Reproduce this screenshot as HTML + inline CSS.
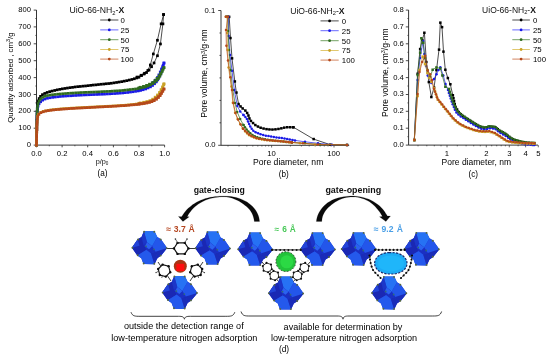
<!DOCTYPE html>
<html><head><meta charset="utf-8"><title>Figure</title>
<style>html,body{margin:0;padding:0;background:#fff;}svg{display:block;filter:blur(0.45px);}</style>
</head><body>
<svg width="550" height="358" viewBox="0 0 550 358" font-family='"Liberation Sans", sans-serif'>
<rect width="550" height="358" fill="#fff"/>
<path d="M36.5 10.05 L36.5 145.1 L164.6 145.1" fill="none" stroke="#2a2a2a" stroke-width="0.95"/>
<line x1="33.7" y1="145.1" x2="36.5" y2="145.1" stroke="#2a2a2a" stroke-width="0.85"/>
<text x="30.9" y="147.1" font-size="7.6" text-anchor="end" font-weight="normal" fill="#000" >0</text>
<line x1="35.3" y1="136.7" x2="36.5" y2="136.7" stroke="#2a2a2a" stroke-width="0.7"/>
<line x1="33.7" y1="128.2" x2="36.5" y2="128.2" stroke="#2a2a2a" stroke-width="0.85"/>
<text x="30.9" y="130.2" font-size="7.6" text-anchor="end" font-weight="normal" fill="#000" >100</text>
<line x1="35.3" y1="119.8" x2="36.5" y2="119.8" stroke="#2a2a2a" stroke-width="0.7"/>
<line x1="33.7" y1="111.3" x2="36.5" y2="111.3" stroke="#2a2a2a" stroke-width="0.85"/>
<text x="30.9" y="113.3" font-size="7.6" text-anchor="end" font-weight="normal" fill="#000" >200</text>
<line x1="35.3" y1="102.9" x2="36.5" y2="102.9" stroke="#2a2a2a" stroke-width="0.7"/>
<line x1="33.7" y1="94.5" x2="36.5" y2="94.5" stroke="#2a2a2a" stroke-width="0.85"/>
<text x="30.9" y="96.5" font-size="7.6" text-anchor="end" font-weight="normal" fill="#000" >300</text>
<line x1="35.3" y1="86.0" x2="36.5" y2="86.0" stroke="#2a2a2a" stroke-width="0.7"/>
<line x1="33.7" y1="77.6" x2="36.5" y2="77.6" stroke="#2a2a2a" stroke-width="0.85"/>
<text x="30.9" y="79.6" font-size="7.6" text-anchor="end" font-weight="normal" fill="#000" >400</text>
<line x1="35.3" y1="69.1" x2="36.5" y2="69.1" stroke="#2a2a2a" stroke-width="0.7"/>
<line x1="33.7" y1="60.7" x2="36.5" y2="60.7" stroke="#2a2a2a" stroke-width="0.85"/>
<text x="30.9" y="62.7" font-size="7.6" text-anchor="end" font-weight="normal" fill="#000" >500</text>
<line x1="35.3" y1="52.3" x2="36.5" y2="52.3" stroke="#2a2a2a" stroke-width="0.7"/>
<line x1="33.7" y1="43.8" x2="36.5" y2="43.8" stroke="#2a2a2a" stroke-width="0.85"/>
<text x="30.9" y="45.8" font-size="7.6" text-anchor="end" font-weight="normal" fill="#000" >600</text>
<line x1="35.3" y1="35.4" x2="36.5" y2="35.4" stroke="#2a2a2a" stroke-width="0.7"/>
<line x1="33.7" y1="26.9" x2="36.5" y2="26.9" stroke="#2a2a2a" stroke-width="0.85"/>
<text x="30.9" y="28.9" font-size="7.6" text-anchor="end" font-weight="normal" fill="#000" >700</text>
<line x1="35.3" y1="18.5" x2="36.5" y2="18.5" stroke="#2a2a2a" stroke-width="0.7"/>
<line x1="33.7" y1="10.1" x2="36.5" y2="10.1" stroke="#2a2a2a" stroke-width="0.85"/>
<text x="30.9" y="12.1" font-size="7.6" text-anchor="end" font-weight="normal" fill="#000" >800</text>
<line x1="36.5" y1="145.1" x2="36.5" y2="147.29999999999998" stroke="#2a2a2a" stroke-width="0.85"/>
<text x="36.5" y="155.7" font-size="7.7" text-anchor="middle" font-weight="normal" fill="#000" >0.0</text>
<line x1="49.3" y1="145.1" x2="49.3" y2="146.29999999999998" stroke="#2a2a2a" stroke-width="0.7"/>
<line x1="62.1" y1="145.1" x2="62.1" y2="147.29999999999998" stroke="#2a2a2a" stroke-width="0.85"/>
<text x="62.1" y="155.7" font-size="7.7" text-anchor="middle" font-weight="normal" fill="#000" >0.2</text>
<line x1="74.9" y1="145.1" x2="74.9" y2="146.29999999999998" stroke="#2a2a2a" stroke-width="0.7"/>
<line x1="87.7" y1="145.1" x2="87.7" y2="147.29999999999998" stroke="#2a2a2a" stroke-width="0.85"/>
<text x="87.7" y="155.7" font-size="7.7" text-anchor="middle" font-weight="normal" fill="#000" >0.4</text>
<line x1="100.6" y1="145.1" x2="100.6" y2="146.29999999999998" stroke="#2a2a2a" stroke-width="0.7"/>
<line x1="113.4" y1="145.1" x2="113.4" y2="147.29999999999998" stroke="#2a2a2a" stroke-width="0.85"/>
<text x="113.4" y="155.7" font-size="7.7" text-anchor="middle" font-weight="normal" fill="#000" >0.6</text>
<line x1="126.2" y1="145.1" x2="126.2" y2="146.29999999999998" stroke="#2a2a2a" stroke-width="0.7"/>
<line x1="139.0" y1="145.1" x2="139.0" y2="147.29999999999998" stroke="#2a2a2a" stroke-width="0.85"/>
<text x="139.0" y="155.7" font-size="7.7" text-anchor="middle" font-weight="normal" fill="#000" >0.8</text>
<line x1="151.8" y1="145.1" x2="151.8" y2="146.29999999999998" stroke="#2a2a2a" stroke-width="0.7"/>
<line x1="164.6" y1="145.1" x2="164.6" y2="147.29999999999998" stroke="#2a2a2a" stroke-width="0.85"/>
<text x="164.6" y="155.7" font-size="7.7" text-anchor="middle" font-weight="normal" fill="#000" >1.0</text>
<text transform="translate(12.5,77.6) rotate(-90)" x="-45.2" font-size="7.9" text-anchor="start" fill="#000" textLength="90.4" lengthAdjust="spacingAndGlyphs">Quantity adsorbed , cm<tspan font-size="5.5" dy="-2.5">3</tspan><tspan dy="2.5">/g</tspan></text>
<text x="102" y="164.2" font-size="7.3" text-anchor="middle" fill="#111">p/p<tspan font-size="4.6" dy="0.8">0</tspan></text>
<text x="102.6" y="176.0" font-size="8.2" text-anchor="middle" font-weight="normal" fill="#000" >(a)</text>
<polyline points="36.5,145.1 36.5,141.5 36.6,136.3 36.7,130.4 36.8,124.6 36.9,119.8 37.0,115.9 37.1,112.5 37.2,109.5 37.3,106.9 37.5,104.6 37.8,102.8 38.0,101.4 38.3,100.4 38.7,99.5 39.1,98.7 39.5,97.8 40.0,97.1 40.5,96.4 41.0,95.9 41.6,95.3 42.3,94.8 42.9,94.3 43.7,93.9 44.5,93.5 45.5,93.1 46.5,92.7 47.7,92.3 48.9,91.9 50.3,91.5 51.9,91.1 53.6,90.6 55.6,90.2 57.7,89.7 59.8,89.3 62.1,88.9 64.5,88.5 67.1,88.1 69.7,87.7 72.3,87.4 74.9,87.0 77.5,86.7 80.1,86.5 82.6,86.2 85.2,85.9 87.7,85.7 90.3,85.4 93.0,85.1 95.6,84.8 98.2,84.6 100.5,84.3 102.7,84.1 104.8,83.9 106.7,83.7 108.6,83.5 110.5,83.3 112.5,83.1 114.4,82.8 116.3,82.5 118.1,82.2 119.8,82.0 121.2,81.7 122.5,81.5 123.7,81.3 124.9,81.0 126.2,80.8 127.5,80.5 128.7,80.2 130.0,79.9 131.3,79.6 132.6,79.3 134.0,78.9 135.4,78.4 136.9,77.9 138.1,77.5 139.0,77.2 141.5,75.5 144.0,74.0 146.5,72.5 149.0,70.0 151.6,66.7 154.0,63.0 157.4,55.8 160.4,44.0 162.9,23.9 163.6,14.6" fill="none" stroke="#000000" stroke-width="0.7" stroke-linejoin="round"/>
<polyline points="163.6,14.6 161.1,23.9 157.4,40.3 153.3,54.0 150.3,65.0 147.8,70.4 144.5,73.2 141.0,75.2 137.0,77.0" fill="none" stroke="#000000" stroke-width="0.7" stroke-linejoin="round"/>
<rect x="35.1" y="143.8" width="2.7" height="2.7" fill="#000000"/>
<rect x="35.2" y="141.2" width="2.7" height="2.7" fill="#000000"/>
<rect x="35.2" y="138.6" width="2.7" height="2.7" fill="#000000"/>
<rect x="35.3" y="136.0" width="2.7" height="2.7" fill="#000000"/>
<rect x="35.3" y="133.4" width="2.7" height="2.7" fill="#000000"/>
<rect x="35.3" y="130.8" width="2.7" height="2.7" fill="#000000"/>
<rect x="35.4" y="128.2" width="2.7" height="2.7" fill="#000000"/>
<rect x="35.4" y="125.6" width="2.7" height="2.7" fill="#000000"/>
<rect x="35.4" y="123.0" width="2.7" height="2.7" fill="#000000"/>
<rect x="35.5" y="120.4" width="2.7" height="2.7" fill="#000000"/>
<rect x="35.6" y="117.8" width="2.7" height="2.7" fill="#000000"/>
<rect x="35.6" y="115.2" width="2.7" height="2.7" fill="#000000"/>
<rect x="35.7" y="112.6" width="2.7" height="2.7" fill="#000000"/>
<rect x="35.8" y="110.0" width="2.7" height="2.7" fill="#000000"/>
<rect x="35.9" y="107.4" width="2.7" height="2.7" fill="#000000"/>
<rect x="36.0" y="104.8" width="2.7" height="2.7" fill="#000000"/>
<rect x="36.3" y="102.2" width="2.7" height="2.7" fill="#000000"/>
<rect x="36.8" y="99.6" width="2.7" height="2.7" fill="#000000"/>
<rect x="37.8" y="97.2" width="2.7" height="2.7" fill="#000000"/>
<rect x="39.2" y="95.0" width="2.7" height="2.7" fill="#000000"/>
<rect x="41.1" y="93.3" width="2.7" height="2.7" fill="#000000"/>
<rect x="43.4" y="92.1" width="2.7" height="2.7" fill="#000000"/>
<rect x="45.8" y="91.1" width="2.7" height="2.7" fill="#000000"/>
<rect x="48.3" y="90.3" width="2.7" height="2.7" fill="#000000"/>
<rect x="50.8" y="89.7" width="2.7" height="2.7" fill="#000000"/>
<rect x="53.3" y="89.1" width="2.7" height="2.7" fill="#000000"/>
<rect x="55.9" y="88.5" width="2.7" height="2.7" fill="#000000"/>
<rect x="58.4" y="88.0" width="2.7" height="2.7" fill="#000000"/>
<rect x="61.0" y="87.5" width="2.7" height="2.7" fill="#000000"/>
<rect x="63.5" y="87.1" width="2.7" height="2.7" fill="#000000"/>
<rect x="66.1" y="86.7" width="2.7" height="2.7" fill="#000000"/>
<rect x="68.7" y="86.3" width="2.7" height="2.7" fill="#000000"/>
<rect x="71.2" y="86.0" width="2.7" height="2.7" fill="#000000"/>
<rect x="73.8" y="85.6" width="2.7" height="2.7" fill="#000000"/>
<rect x="76.4" y="85.3" width="2.7" height="2.7" fill="#000000"/>
<rect x="79.0" y="85.1" width="2.7" height="2.7" fill="#000000"/>
<rect x="81.6" y="84.8" width="2.7" height="2.7" fill="#000000"/>
<rect x="84.2" y="84.6" width="2.7" height="2.7" fill="#000000"/>
<rect x="86.8" y="84.3" width="2.7" height="2.7" fill="#000000"/>
<rect x="89.3" y="84.0" width="2.7" height="2.7" fill="#000000"/>
<rect x="91.9" y="83.7" width="2.7" height="2.7" fill="#000000"/>
<rect x="94.5" y="83.5" width="2.7" height="2.7" fill="#000000"/>
<rect x="97.1" y="83.2" width="2.7" height="2.7" fill="#000000"/>
<rect x="99.7" y="82.9" width="2.7" height="2.7" fill="#000000"/>
<rect x="102.3" y="82.7" width="2.7" height="2.7" fill="#000000"/>
<rect x="104.9" y="82.4" width="2.7" height="2.7" fill="#000000"/>
<rect x="107.4" y="82.2" width="2.7" height="2.7" fill="#000000"/>
<rect x="110.0" y="81.9" width="2.7" height="2.7" fill="#000000"/>
<rect x="112.6" y="81.5" width="2.7" height="2.7" fill="#000000"/>
<rect x="115.2" y="81.1" width="2.7" height="2.7" fill="#000000"/>
<rect x="117.7" y="80.7" width="2.7" height="2.7" fill="#000000"/>
<rect x="120.3" y="80.3" width="2.7" height="2.7" fill="#000000"/>
<rect x="122.9" y="79.8" width="2.7" height="2.7" fill="#000000"/>
<rect x="125.4" y="79.3" width="2.7" height="2.7" fill="#000000"/>
<rect x="128.0" y="78.7" width="2.7" height="2.7" fill="#000000"/>
<rect x="130.5" y="78.1" width="2.7" height="2.7" fill="#000000"/>
<rect x="133.0" y="77.4" width="2.7" height="2.7" fill="#000000"/>
<rect x="135.4" y="76.6" width="2.7" height="2.7" fill="#000000"/>
<rect x="137.6" y="75.9" width="2.7" height="2.7" fill="#000000"/>
<rect x="140.2" y="74.2" width="2.7" height="2.7" fill="#000000"/>
<rect x="142.7" y="72.7" width="2.7" height="2.7" fill="#000000"/>
<rect x="145.2" y="71.2" width="2.7" height="2.7" fill="#000000"/>
<rect x="147.7" y="68.7" width="2.7" height="2.7" fill="#000000"/>
<rect x="150.2" y="65.4" width="2.7" height="2.7" fill="#000000"/>
<rect x="152.7" y="61.6" width="2.7" height="2.7" fill="#000000"/>
<rect x="156.1" y="54.4" width="2.7" height="2.7" fill="#000000"/>
<rect x="159.1" y="42.6" width="2.7" height="2.7" fill="#000000"/>
<rect x="161.6" y="22.5" width="2.7" height="2.7" fill="#000000"/>
<rect x="162.2" y="13.2" width="2.7" height="2.7" fill="#000000"/>
<rect x="162.2" y="13.2" width="2.7" height="2.7" fill="#000000"/>
<rect x="159.8" y="22.5" width="2.7" height="2.7" fill="#000000"/>
<rect x="156.1" y="38.9" width="2.7" height="2.7" fill="#000000"/>
<rect x="152.0" y="52.6" width="2.7" height="2.7" fill="#000000"/>
<rect x="149.0" y="63.6" width="2.7" height="2.7" fill="#000000"/>
<rect x="146.5" y="69.1" width="2.7" height="2.7" fill="#000000"/>
<rect x="143.2" y="71.9" width="2.7" height="2.7" fill="#000000"/>
<rect x="139.7" y="73.9" width="2.7" height="2.7" fill="#000000"/>
<rect x="135.7" y="75.7" width="2.7" height="2.7" fill="#000000"/>
<polyline points="36.5,145.1 36.5,141.7 36.6,136.8 36.7,131.3 36.8,125.9 36.9,121.5 37.0,118.1 37.1,115.2 37.2,112.8 37.3,110.7 37.5,108.8 37.8,107.3 38.0,106.1 38.3,105.2 38.7,104.5 39.1,103.7 39.5,103.0 40.0,102.4 40.5,101.9 41.0,101.4 41.6,100.9 42.3,100.4 42.9,100.0 43.7,99.6 44.5,99.2 45.5,98.8 46.5,98.5 47.7,98.2 48.9,98.0 50.3,97.7 51.9,97.5 53.6,97.2 55.6,97.0 57.7,96.8 59.8,96.5 62.1,96.3 64.5,96.1 67.1,95.9 69.7,95.8 72.3,95.6 74.9,95.5 77.5,95.3 80.1,95.2 82.6,95.0 85.2,94.9 87.7,94.8 90.3,94.7 92.9,94.6 95.4,94.5 98.0,94.4 100.5,94.3 103.1,94.2 105.7,94.0 108.2,93.9 110.8,93.8 113.4,93.6 115.9,93.4 118.5,93.3 121.0,93.1 123.6,92.9 126.2,92.6 128.8,92.3 131.5,91.9 134.2,91.5 136.7,91.1 139.0,90.7 140.9,90.3 142.5,89.9 144.0,89.5 145.4,89.0 146.7,88.5 147.9,88.1 149.0,87.6 150.0,87.1 150.9,86.6 151.8,86.0 152.7,85.4 153.5,84.7 154.2,84.1 155.0,83.3 155.6,82.6 156.2,81.9 156.8,81.3 157.2,80.6 157.7,79.8 158.2,78.9 158.7,77.9 159.3,76.8 159.8,75.7 160.3,74.5 160.8,73.4 161.2,72.2 161.6,70.9 162.0,69.7 162.3,68.5 162.7,67.4 163.0,66.4 163.3,65.4 163.6,64.4 163.8,63.6 164.0,63.1" fill="none" stroke="#1a1ae6" stroke-width="0.7" stroke-linejoin="round"/>
<rect x="35.1" y="143.8" width="2.7" height="2.7" fill="#1a1ae6"/>
<rect x="35.2" y="141.2" width="2.7" height="2.7" fill="#1a1ae6"/>
<rect x="35.2" y="138.6" width="2.7" height="2.7" fill="#1a1ae6"/>
<rect x="35.3" y="136.0" width="2.7" height="2.7" fill="#1a1ae6"/>
<rect x="35.3" y="133.4" width="2.7" height="2.7" fill="#1a1ae6"/>
<rect x="35.3" y="130.8" width="2.7" height="2.7" fill="#1a1ae6"/>
<rect x="35.4" y="128.2" width="2.7" height="2.7" fill="#1a1ae6"/>
<rect x="35.4" y="125.6" width="2.7" height="2.7" fill="#1a1ae6"/>
<rect x="35.5" y="123.0" width="2.7" height="2.7" fill="#1a1ae6"/>
<rect x="35.5" y="120.4" width="2.7" height="2.7" fill="#1a1ae6"/>
<rect x="35.6" y="117.8" width="2.7" height="2.7" fill="#1a1ae6"/>
<rect x="35.7" y="115.2" width="2.7" height="2.7" fill="#1a1ae6"/>
<rect x="35.8" y="112.6" width="2.7" height="2.7" fill="#1a1ae6"/>
<rect x="35.9" y="110.0" width="2.7" height="2.7" fill="#1a1ae6"/>
<rect x="36.2" y="107.4" width="2.7" height="2.7" fill="#1a1ae6"/>
<rect x="36.7" y="104.8" width="2.7" height="2.7" fill="#1a1ae6"/>
<rect x="37.7" y="102.4" width="2.7" height="2.7" fill="#1a1ae6"/>
<rect x="39.3" y="100.4" width="2.7" height="2.7" fill="#1a1ae6"/>
<rect x="41.3" y="98.8" width="2.7" height="2.7" fill="#1a1ae6"/>
<rect x="43.6" y="97.7" width="2.7" height="2.7" fill="#1a1ae6"/>
<rect x="46.1" y="96.9" width="2.7" height="2.7" fill="#1a1ae6"/>
<rect x="48.7" y="96.4" width="2.7" height="2.7" fill="#1a1ae6"/>
<rect x="51.3" y="96.0" width="2.7" height="2.7" fill="#1a1ae6"/>
<rect x="53.8" y="95.7" width="2.7" height="2.7" fill="#1a1ae6"/>
<rect x="56.4" y="95.4" width="2.7" height="2.7" fill="#1a1ae6"/>
<rect x="59.0" y="95.1" width="2.7" height="2.7" fill="#1a1ae6"/>
<rect x="61.6" y="94.9" width="2.7" height="2.7" fill="#1a1ae6"/>
<rect x="64.2" y="94.7" width="2.7" height="2.7" fill="#1a1ae6"/>
<rect x="66.8" y="94.5" width="2.7" height="2.7" fill="#1a1ae6"/>
<rect x="69.4" y="94.4" width="2.7" height="2.7" fill="#1a1ae6"/>
<rect x="72.0" y="94.2" width="2.7" height="2.7" fill="#1a1ae6"/>
<rect x="74.6" y="94.1" width="2.7" height="2.7" fill="#1a1ae6"/>
<rect x="77.2" y="93.9" width="2.7" height="2.7" fill="#1a1ae6"/>
<rect x="79.8" y="93.8" width="2.7" height="2.7" fill="#1a1ae6"/>
<rect x="82.4" y="93.6" width="2.7" height="2.7" fill="#1a1ae6"/>
<rect x="85.0" y="93.5" width="2.7" height="2.7" fill="#1a1ae6"/>
<rect x="87.6" y="93.4" width="2.7" height="2.7" fill="#1a1ae6"/>
<rect x="90.1" y="93.3" width="2.7" height="2.7" fill="#1a1ae6"/>
<rect x="92.7" y="93.2" width="2.7" height="2.7" fill="#1a1ae6"/>
<rect x="95.3" y="93.1" width="2.7" height="2.7" fill="#1a1ae6"/>
<rect x="97.9" y="93.0" width="2.7" height="2.7" fill="#1a1ae6"/>
<rect x="100.5" y="92.9" width="2.7" height="2.7" fill="#1a1ae6"/>
<rect x="103.1" y="92.8" width="2.7" height="2.7" fill="#1a1ae6"/>
<rect x="105.7" y="92.6" width="2.7" height="2.7" fill="#1a1ae6"/>
<rect x="108.3" y="92.5" width="2.7" height="2.7" fill="#1a1ae6"/>
<rect x="110.9" y="92.3" width="2.7" height="2.7" fill="#1a1ae6"/>
<rect x="113.5" y="92.2" width="2.7" height="2.7" fill="#1a1ae6"/>
<rect x="116.1" y="92.0" width="2.7" height="2.7" fill="#1a1ae6"/>
<rect x="118.7" y="91.8" width="2.7" height="2.7" fill="#1a1ae6"/>
<rect x="121.3" y="91.6" width="2.7" height="2.7" fill="#1a1ae6"/>
<rect x="123.9" y="91.3" width="2.7" height="2.7" fill="#1a1ae6"/>
<rect x="126.5" y="91.1" width="2.7" height="2.7" fill="#1a1ae6"/>
<rect x="129.1" y="90.7" width="2.7" height="2.7" fill="#1a1ae6"/>
<rect x="131.6" y="90.4" width="2.7" height="2.7" fill="#1a1ae6"/>
<rect x="134.2" y="90.0" width="2.7" height="2.7" fill="#1a1ae6"/>
<rect x="136.8" y="89.6" width="2.7" height="2.7" fill="#1a1ae6"/>
<rect x="139.3" y="89.0" width="2.7" height="2.7" fill="#1a1ae6"/>
<rect x="141.8" y="88.4" width="2.7" height="2.7" fill="#1a1ae6"/>
<rect x="144.3" y="87.6" width="2.7" height="2.7" fill="#1a1ae6"/>
<rect x="146.7" y="86.6" width="2.7" height="2.7" fill="#1a1ae6"/>
<rect x="149.1" y="85.5" width="2.7" height="2.7" fill="#1a1ae6"/>
<rect x="151.2" y="84.1" width="2.7" height="2.7" fill="#1a1ae6"/>
<rect x="153.2" y="82.4" width="2.7" height="2.7" fill="#1a1ae6"/>
<rect x="155.0" y="80.5" width="2.7" height="2.7" fill="#1a1ae6"/>
<rect x="156.4" y="78.3" width="2.7" height="2.7" fill="#1a1ae6"/>
<rect x="157.6" y="76.0" width="2.7" height="2.7" fill="#1a1ae6"/>
<rect x="158.7" y="73.7" width="2.7" height="2.7" fill="#1a1ae6"/>
<rect x="159.7" y="71.3" width="2.7" height="2.7" fill="#1a1ae6"/>
<rect x="160.5" y="68.8" width="2.7" height="2.7" fill="#1a1ae6"/>
<rect x="161.3" y="66.3" width="2.7" height="2.7" fill="#1a1ae6"/>
<rect x="162.0" y="63.8" width="2.7" height="2.7" fill="#1a1ae6"/>
<rect x="162.6" y="61.7" width="2.7" height="2.7" fill="#1a1ae6"/>
<polyline points="164.0,63.1 163.4,64.5 162.5,66.6 161.6,68.9 160.8,70.8 160.1,72.3 159.5,73.7 158.9,75.0 158.2,76.2 157.4,77.5 156.4,78.8 155.4,80.1 154.4,81.3 153.3,82.4 152.2,83.5 150.9,84.6 149.2,85.7 146.8,86.9 143.8,88.1 140.9,89.3 139.0,90.1" fill="none" stroke="#1a1ae6" stroke-width="0.7" stroke-linejoin="round"/>
<rect x="162.6" y="61.7" width="2.7" height="2.7" fill="#1a1ae6"/>
<rect x="161.4" y="64.7" width="2.7" height="2.7" fill="#1a1ae6"/>
<rect x="160.2" y="67.6" width="2.7" height="2.7" fill="#1a1ae6"/>
<rect x="158.9" y="70.6" width="2.7" height="2.7" fill="#1a1ae6"/>
<rect x="157.6" y="73.5" width="2.7" height="2.7" fill="#1a1ae6"/>
<rect x="156.0" y="76.2" width="2.7" height="2.7" fill="#1a1ae6"/>
<rect x="154.0" y="78.8" width="2.7" height="2.7" fill="#1a1ae6"/>
<rect x="151.9" y="81.1" width="2.7" height="2.7" fill="#1a1ae6"/>
<rect x="149.5" y="83.3" width="2.7" height="2.7" fill="#1a1ae6"/>
<rect x="146.7" y="84.9" width="2.7" height="2.7" fill="#1a1ae6"/>
<rect x="143.8" y="86.2" width="2.7" height="2.7" fill="#1a1ae6"/>
<rect x="140.9" y="87.4" width="2.7" height="2.7" fill="#1a1ae6"/>
<rect x="137.9" y="88.6" width="2.7" height="2.7" fill="#1a1ae6"/>
<rect x="137.6" y="88.7" width="2.7" height="2.7" fill="#1a1ae6"/>
<polyline points="36.5,145.1 36.5,141.6 36.6,136.5 36.7,130.8 36.8,125.2 36.9,120.6 37.0,117.1 37.1,114.1 37.2,111.4 37.3,109.2 37.5,107.1 37.8,105.4 38.0,104.1 38.3,103.0 38.7,102.1 39.1,101.2 39.5,100.4 40.0,99.7 40.5,99.2 41.0,98.7 41.6,98.2 42.3,97.7 42.9,97.3 43.7,96.9 44.5,96.5 45.5,96.1 46.5,95.8 47.7,95.5 48.9,95.3 50.3,95.0 51.9,94.8 53.6,94.6 55.6,94.4 57.7,94.2 59.8,94.0 62.1,93.8 64.5,93.6 67.1,93.4 69.7,93.3 72.3,93.1 74.9,92.9 77.5,92.8 80.1,92.6 82.6,92.5 85.2,92.4 87.7,92.3 90.3,92.2 92.9,92.1 95.4,92.0 98.0,91.9 100.5,91.8 103.1,91.6 105.7,91.5 108.2,91.4 110.8,91.2 113.4,91.1 115.9,90.9 118.5,90.7 121.0,90.5 123.6,90.3 126.2,90.1 128.8,89.8 131.5,89.4 134.2,89.1 136.7,88.7 139.0,88.4 140.9,88.0 142.5,87.7 144.0,87.3 145.4,86.9 146.7,86.5 147.9,86.1 149.0,85.7 150.0,85.3 150.9,84.8 151.8,84.3 152.7,83.8 153.5,83.3 154.2,82.7 155.0,82.2 155.6,81.6 156.2,81.1 156.8,80.6 157.2,80.1 157.7,79.6 158.2,78.9 158.7,78.2 159.3,77.3 159.8,76.3 160.3,75.4 160.8,74.5 161.2,73.7 161.6,72.8 162.0,72.0 162.3,71.2 162.7,70.5 163.0,69.8 163.3,69.1 163.6,68.5 163.8,68.0 164.0,67.6" fill="none" stroke="#2f6b1e" stroke-width="0.7" stroke-linejoin="round"/>
<rect x="35.1" y="143.8" width="2.7" height="2.7" fill="#2f6b1e"/>
<rect x="35.2" y="141.2" width="2.7" height="2.7" fill="#2f6b1e"/>
<rect x="35.2" y="138.6" width="2.7" height="2.7" fill="#2f6b1e"/>
<rect x="35.3" y="136.0" width="2.7" height="2.7" fill="#2f6b1e"/>
<rect x="35.3" y="133.4" width="2.7" height="2.7" fill="#2f6b1e"/>
<rect x="35.3" y="130.8" width="2.7" height="2.7" fill="#2f6b1e"/>
<rect x="35.4" y="128.2" width="2.7" height="2.7" fill="#2f6b1e"/>
<rect x="35.4" y="125.6" width="2.7" height="2.7" fill="#2f6b1e"/>
<rect x="35.5" y="123.0" width="2.7" height="2.7" fill="#2f6b1e"/>
<rect x="35.5" y="120.4" width="2.7" height="2.7" fill="#2f6b1e"/>
<rect x="35.6" y="117.8" width="2.7" height="2.7" fill="#2f6b1e"/>
<rect x="35.7" y="115.2" width="2.7" height="2.7" fill="#2f6b1e"/>
<rect x="35.7" y="112.6" width="2.7" height="2.7" fill="#2f6b1e"/>
<rect x="35.9" y="110.0" width="2.7" height="2.7" fill="#2f6b1e"/>
<rect x="36.0" y="107.4" width="2.7" height="2.7" fill="#2f6b1e"/>
<rect x="36.3" y="104.8" width="2.7" height="2.7" fill="#2f6b1e"/>
<rect x="36.8" y="102.2" width="2.7" height="2.7" fill="#2f6b1e"/>
<rect x="37.7" y="99.8" width="2.7" height="2.7" fill="#2f6b1e"/>
<rect x="39.2" y="97.7" width="2.7" height="2.7" fill="#2f6b1e"/>
<rect x="41.3" y="96.1" width="2.7" height="2.7" fill="#2f6b1e"/>
<rect x="43.6" y="95.0" width="2.7" height="2.7" fill="#2f6b1e"/>
<rect x="46.1" y="94.2" width="2.7" height="2.7" fill="#2f6b1e"/>
<rect x="48.7" y="93.7" width="2.7" height="2.7" fill="#2f6b1e"/>
<rect x="51.2" y="93.4" width="2.7" height="2.7" fill="#2f6b1e"/>
<rect x="53.8" y="93.1" width="2.7" height="2.7" fill="#2f6b1e"/>
<rect x="56.4" y="92.8" width="2.7" height="2.7" fill="#2f6b1e"/>
<rect x="59.0" y="92.6" width="2.7" height="2.7" fill="#2f6b1e"/>
<rect x="61.6" y="92.4" width="2.7" height="2.7" fill="#2f6b1e"/>
<rect x="64.2" y="92.2" width="2.7" height="2.7" fill="#2f6b1e"/>
<rect x="66.8" y="92.0" width="2.7" height="2.7" fill="#2f6b1e"/>
<rect x="69.4" y="91.8" width="2.7" height="2.7" fill="#2f6b1e"/>
<rect x="72.0" y="91.7" width="2.7" height="2.7" fill="#2f6b1e"/>
<rect x="74.6" y="91.5" width="2.7" height="2.7" fill="#2f6b1e"/>
<rect x="77.2" y="91.4" width="2.7" height="2.7" fill="#2f6b1e"/>
<rect x="79.7" y="91.2" width="2.7" height="2.7" fill="#2f6b1e"/>
<rect x="82.3" y="91.1" width="2.7" height="2.7" fill="#2f6b1e"/>
<rect x="84.9" y="91.0" width="2.7" height="2.7" fill="#2f6b1e"/>
<rect x="87.5" y="90.9" width="2.7" height="2.7" fill="#2f6b1e"/>
<rect x="90.1" y="90.8" width="2.7" height="2.7" fill="#2f6b1e"/>
<rect x="92.7" y="90.7" width="2.7" height="2.7" fill="#2f6b1e"/>
<rect x="95.3" y="90.6" width="2.7" height="2.7" fill="#2f6b1e"/>
<rect x="97.9" y="90.5" width="2.7" height="2.7" fill="#2f6b1e"/>
<rect x="100.5" y="90.3" width="2.7" height="2.7" fill="#2f6b1e"/>
<rect x="103.1" y="90.2" width="2.7" height="2.7" fill="#2f6b1e"/>
<rect x="105.7" y="90.1" width="2.7" height="2.7" fill="#2f6b1e"/>
<rect x="108.3" y="90.0" width="2.7" height="2.7" fill="#2f6b1e"/>
<rect x="110.9" y="89.8" width="2.7" height="2.7" fill="#2f6b1e"/>
<rect x="113.5" y="89.6" width="2.7" height="2.7" fill="#2f6b1e"/>
<rect x="116.1" y="89.5" width="2.7" height="2.7" fill="#2f6b1e"/>
<rect x="118.7" y="89.3" width="2.7" height="2.7" fill="#2f6b1e"/>
<rect x="121.3" y="89.1" width="2.7" height="2.7" fill="#2f6b1e"/>
<rect x="123.9" y="88.8" width="2.7" height="2.7" fill="#2f6b1e"/>
<rect x="126.5" y="88.5" width="2.7" height="2.7" fill="#2f6b1e"/>
<rect x="129.0" y="88.2" width="2.7" height="2.7" fill="#2f6b1e"/>
<rect x="131.6" y="87.9" width="2.7" height="2.7" fill="#2f6b1e"/>
<rect x="134.2" y="87.6" width="2.7" height="2.7" fill="#2f6b1e"/>
<rect x="136.8" y="87.2" width="2.7" height="2.7" fill="#2f6b1e"/>
<rect x="139.3" y="86.7" width="2.7" height="2.7" fill="#2f6b1e"/>
<rect x="141.9" y="86.1" width="2.7" height="2.7" fill="#2f6b1e"/>
<rect x="144.4" y="85.5" width="2.7" height="2.7" fill="#2f6b1e"/>
<rect x="146.8" y="84.6" width="2.7" height="2.7" fill="#2f6b1e"/>
<rect x="149.2" y="83.6" width="2.7" height="2.7" fill="#2f6b1e"/>
<rect x="151.5" y="82.3" width="2.7" height="2.7" fill="#2f6b1e"/>
<rect x="153.6" y="80.8" width="2.7" height="2.7" fill="#2f6b1e"/>
<rect x="155.6" y="79.1" width="2.7" height="2.7" fill="#2f6b1e"/>
<rect x="157.2" y="77.1" width="2.7" height="2.7" fill="#2f6b1e"/>
<rect x="158.5" y="74.9" width="2.7" height="2.7" fill="#2f6b1e"/>
<rect x="159.7" y="72.6" width="2.7" height="2.7" fill="#2f6b1e"/>
<rect x="160.8" y="70.2" width="2.7" height="2.7" fill="#2f6b1e"/>
<rect x="161.9" y="67.8" width="2.7" height="2.7" fill="#2f6b1e"/>
<rect x="162.6" y="66.3" width="2.7" height="2.7" fill="#2f6b1e"/>
<polyline points="164.0,67.6 163.4,68.6 162.5,70.0 161.6,71.5 160.8,72.8 160.1,73.9 159.5,74.9 158.9,75.9 158.2,76.9 157.4,77.9 156.4,79.0 155.4,80.0 154.4,81.0 153.3,81.8 152.2,82.7 150.9,83.5 149.2,84.3 146.8,85.3 143.8,86.2 140.9,87.1 139.0,87.7" fill="none" stroke="#2f6b1e" stroke-width="0.7" stroke-linejoin="round"/>
<rect x="162.6" y="66.3" width="2.7" height="2.7" fill="#2f6b1e"/>
<rect x="160.9" y="69.0" width="2.7" height="2.7" fill="#2f6b1e"/>
<rect x="159.3" y="71.7" width="2.7" height="2.7" fill="#2f6b1e"/>
<rect x="157.6" y="74.5" width="2.7" height="2.7" fill="#2f6b1e"/>
<rect x="155.6" y="77.0" width="2.7" height="2.7" fill="#2f6b1e"/>
<rect x="153.4" y="79.3" width="2.7" height="2.7" fill="#2f6b1e"/>
<rect x="150.9" y="81.3" width="2.7" height="2.7" fill="#2f6b1e"/>
<rect x="148.1" y="82.8" width="2.7" height="2.7" fill="#2f6b1e"/>
<rect x="145.2" y="84.0" width="2.7" height="2.7" fill="#2f6b1e"/>
<rect x="142.1" y="85.0" width="2.7" height="2.7" fill="#2f6b1e"/>
<rect x="139.0" y="85.9" width="2.7" height="2.7" fill="#2f6b1e"/>
<rect x="137.6" y="86.4" width="2.7" height="2.7" fill="#2f6b1e"/>
<polyline points="36.5,145.1 36.5,142.4 36.6,138.6 36.7,134.2 36.8,129.9 36.9,126.5 37.0,124.0 37.1,121.9 37.2,120.1 37.3,118.6 37.5,117.2 37.8,116.1 38.0,115.3 38.3,114.7 38.7,114.2 39.1,113.7 39.5,113.2 40.0,112.9 40.5,112.6 41.0,112.3 41.6,112.0 42.3,111.7 42.9,111.5 43.7,111.3 44.5,111.0 45.5,110.8 46.5,110.6 47.7,110.4 48.9,110.2 50.3,110.0 51.9,109.8 53.6,109.6 55.6,109.4 57.7,109.2 59.8,109.0 62.1,108.8 64.5,108.6 67.1,108.4 69.7,108.3 72.3,108.1 74.9,108.0 77.5,107.8 80.1,107.7 82.6,107.5 85.2,107.4 87.7,107.3 90.3,107.2 92.9,107.0 95.4,106.9 98.0,106.7 100.5,106.6 103.1,106.5 105.7,106.3 108.2,106.2 110.8,106.1 113.4,105.9 115.9,105.8 118.5,105.6 121.0,105.5 123.6,105.3 126.2,105.1 128.8,104.9 131.5,104.6 134.2,104.3 136.7,104.0 139.0,103.7 140.9,103.5 142.5,103.2 144.0,103.0 145.4,102.7 146.7,102.4 147.9,102.1 149.0,101.8 150.0,101.4 150.9,101.1 151.8,100.7 152.7,100.3 153.5,99.8 154.2,99.3 155.0,98.8 155.6,98.3 156.2,97.9 156.8,97.4 157.2,96.9 157.7,96.4 158.2,95.8 158.7,95.1 159.3,94.4 159.8,93.6 160.3,92.7 160.8,91.9 161.2,91.1 161.6,90.2 162.0,89.4 162.3,88.5 162.7,87.7 163.0,86.9 163.3,86.0 163.6,85.2 163.8,84.5 164.0,84.0" fill="none" stroke="#c9a227" stroke-width="0.7" stroke-linejoin="round"/>
<rect x="35.1" y="143.8" width="2.7" height="2.7" fill="#c9a227"/>
<rect x="35.2" y="141.2" width="2.7" height="2.7" fill="#c9a227"/>
<rect x="35.2" y="138.6" width="2.7" height="2.7" fill="#c9a227"/>
<rect x="35.3" y="136.0" width="2.7" height="2.7" fill="#c9a227"/>
<rect x="35.3" y="133.4" width="2.7" height="2.7" fill="#c9a227"/>
<rect x="35.4" y="130.8" width="2.7" height="2.7" fill="#c9a227"/>
<rect x="35.4" y="128.2" width="2.7" height="2.7" fill="#c9a227"/>
<rect x="35.5" y="125.6" width="2.7" height="2.7" fill="#c9a227"/>
<rect x="35.6" y="123.0" width="2.7" height="2.7" fill="#c9a227"/>
<rect x="35.7" y="120.4" width="2.7" height="2.7" fill="#c9a227"/>
<rect x="35.9" y="117.8" width="2.7" height="2.7" fill="#c9a227"/>
<rect x="36.3" y="115.2" width="2.7" height="2.7" fill="#c9a227"/>
<rect x="37.3" y="112.8" width="2.7" height="2.7" fill="#c9a227"/>
<rect x="39.3" y="111.1" width="2.7" height="2.7" fill="#c9a227"/>
<rect x="41.7" y="110.1" width="2.7" height="2.7" fill="#c9a227"/>
<rect x="44.2" y="109.5" width="2.7" height="2.7" fill="#c9a227"/>
<rect x="46.7" y="109.0" width="2.7" height="2.7" fill="#c9a227"/>
<rect x="49.3" y="108.6" width="2.7" height="2.7" fill="#c9a227"/>
<rect x="51.9" y="108.3" width="2.7" height="2.7" fill="#c9a227"/>
<rect x="54.5" y="108.0" width="2.7" height="2.7" fill="#c9a227"/>
<rect x="57.1" y="107.8" width="2.7" height="2.7" fill="#c9a227"/>
<rect x="59.6" y="107.5" width="2.7" height="2.7" fill="#c9a227"/>
<rect x="62.2" y="107.3" width="2.7" height="2.7" fill="#c9a227"/>
<rect x="64.8" y="107.2" width="2.7" height="2.7" fill="#c9a227"/>
<rect x="67.4" y="107.0" width="2.7" height="2.7" fill="#c9a227"/>
<rect x="70.0" y="106.8" width="2.7" height="2.7" fill="#c9a227"/>
<rect x="72.6" y="106.7" width="2.7" height="2.7" fill="#c9a227"/>
<rect x="75.2" y="106.5" width="2.7" height="2.7" fill="#c9a227"/>
<rect x="77.8" y="106.4" width="2.7" height="2.7" fill="#c9a227"/>
<rect x="80.4" y="106.2" width="2.7" height="2.7" fill="#c9a227"/>
<rect x="83.0" y="106.1" width="2.7" height="2.7" fill="#c9a227"/>
<rect x="85.6" y="106.0" width="2.7" height="2.7" fill="#c9a227"/>
<rect x="88.2" y="105.8" width="2.7" height="2.7" fill="#c9a227"/>
<rect x="90.8" y="105.7" width="2.7" height="2.7" fill="#c9a227"/>
<rect x="93.4" y="105.6" width="2.7" height="2.7" fill="#c9a227"/>
<rect x="96.0" y="105.4" width="2.7" height="2.7" fill="#c9a227"/>
<rect x="98.6" y="105.3" width="2.7" height="2.7" fill="#c9a227"/>
<rect x="101.2" y="105.2" width="2.7" height="2.7" fill="#c9a227"/>
<rect x="103.8" y="105.0" width="2.7" height="2.7" fill="#c9a227"/>
<rect x="106.4" y="104.9" width="2.7" height="2.7" fill="#c9a227"/>
<rect x="109.0" y="104.8" width="2.7" height="2.7" fill="#c9a227"/>
<rect x="111.6" y="104.6" width="2.7" height="2.7" fill="#c9a227"/>
<rect x="114.2" y="104.5" width="2.7" height="2.7" fill="#c9a227"/>
<rect x="116.8" y="104.3" width="2.7" height="2.7" fill="#c9a227"/>
<rect x="119.4" y="104.1" width="2.7" height="2.7" fill="#c9a227"/>
<rect x="121.9" y="104.0" width="2.7" height="2.7" fill="#c9a227"/>
<rect x="124.5" y="103.8" width="2.7" height="2.7" fill="#c9a227"/>
<rect x="127.1" y="103.5" width="2.7" height="2.7" fill="#c9a227"/>
<rect x="129.7" y="103.3" width="2.7" height="2.7" fill="#c9a227"/>
<rect x="132.3" y="103.0" width="2.7" height="2.7" fill="#c9a227"/>
<rect x="134.9" y="102.7" width="2.7" height="2.7" fill="#c9a227"/>
<rect x="137.5" y="102.4" width="2.7" height="2.7" fill="#c9a227"/>
<rect x="140.0" y="102.0" width="2.7" height="2.7" fill="#c9a227"/>
<rect x="142.6" y="101.6" width="2.7" height="2.7" fill="#c9a227"/>
<rect x="145.1" y="101.1" width="2.7" height="2.7" fill="#c9a227"/>
<rect x="147.7" y="100.4" width="2.7" height="2.7" fill="#c9a227"/>
<rect x="150.1" y="99.5" width="2.7" height="2.7" fill="#c9a227"/>
<rect x="152.4" y="98.3" width="2.7" height="2.7" fill="#c9a227"/>
<rect x="154.5" y="96.8" width="2.7" height="2.7" fill="#c9a227"/>
<rect x="156.4" y="95.0" width="2.7" height="2.7" fill="#c9a227"/>
<rect x="158.0" y="92.9" width="2.7" height="2.7" fill="#c9a227"/>
<rect x="159.3" y="90.7" width="2.7" height="2.7" fill="#c9a227"/>
<rect x="160.5" y="88.4" width="2.7" height="2.7" fill="#c9a227"/>
<rect x="161.5" y="86.0" width="2.7" height="2.7" fill="#c9a227"/>
<rect x="162.3" y="83.5" width="2.7" height="2.7" fill="#c9a227"/>
<rect x="162.6" y="82.6" width="2.7" height="2.7" fill="#c9a227"/>
<polyline points="164.0,84.0 163.4,85.2 162.5,86.9 161.6,88.7 160.8,90.2 160.1,91.4 159.5,92.3 158.9,93.2 158.2,94.1 157.4,95.1 156.4,96.0 155.4,97.0 154.4,97.8 153.3,98.7 152.2,99.4 150.9,100.2 149.2,100.9 146.8,101.6 143.8,102.2 140.9,102.8 139.0,103.2" fill="none" stroke="#c9a227" stroke-width="0.7" stroke-linejoin="round"/>
<rect x="162.6" y="82.6" width="2.7" height="2.7" fill="#c9a227"/>
<rect x="161.2" y="85.5" width="2.7" height="2.7" fill="#c9a227"/>
<rect x="159.7" y="88.3" width="2.7" height="2.7" fill="#c9a227"/>
<rect x="158.1" y="91.1" width="2.7" height="2.7" fill="#c9a227"/>
<rect x="156.1" y="93.6" width="2.7" height="2.7" fill="#c9a227"/>
<rect x="153.8" y="95.8" width="2.7" height="2.7" fill="#c9a227"/>
<rect x="151.3" y="97.8" width="2.7" height="2.7" fill="#c9a227"/>
<rect x="148.5" y="99.3" width="2.7" height="2.7" fill="#c9a227"/>
<rect x="145.4" y="100.2" width="2.7" height="2.7" fill="#c9a227"/>
<rect x="142.3" y="100.9" width="2.7" height="2.7" fill="#c9a227"/>
<rect x="139.1" y="101.6" width="2.7" height="2.7" fill="#c9a227"/>
<rect x="137.6" y="101.9" width="2.7" height="2.7" fill="#c9a227"/>
<polyline points="36.5,145.1 36.5,142.5 36.6,138.7 36.7,134.4 36.8,130.2 36.9,126.9 37.0,124.4 37.1,122.3 37.2,120.6 37.3,119.1 37.5,117.8 37.8,116.6 38.0,115.8 38.3,115.1 38.7,114.6 39.1,114.0 39.5,113.6 40.0,113.2 40.5,112.9 41.0,112.6 41.6,112.4 42.3,112.1 42.9,111.8 43.7,111.6 44.5,111.4 45.5,111.2 46.5,111.0 47.7,110.8 48.9,110.6 50.3,110.4 51.9,110.2 53.6,110.0 55.6,109.7 57.7,109.5 59.8,109.3 62.1,109.1 64.5,109.0 67.1,108.8 69.7,108.6 72.3,108.5 74.9,108.3 77.5,108.2 80.1,108.0 82.6,107.9 85.2,107.8 87.7,107.6 90.3,107.5 92.9,107.4 95.4,107.2 98.0,107.1 100.5,106.9 103.1,106.8 105.7,106.7 108.2,106.6 110.8,106.4 113.4,106.3 115.9,106.1 118.5,106.0 121.0,105.8 123.6,105.6 126.2,105.4 128.8,105.2 131.5,105.0 134.2,104.7 136.7,104.5 139.0,104.2 140.9,104.0 142.5,103.8 144.0,103.6 145.4,103.3 146.7,103.1 147.9,102.8 149.0,102.6 150.0,102.3 150.9,102.0 151.8,101.7 152.7,101.4 153.5,101.0 154.2,100.6 155.0,100.2 155.6,99.9 156.2,99.5 156.8,99.1 157.2,98.7 157.7,98.3 158.2,97.8 158.7,97.3 159.3,96.7 159.8,96.1 160.3,95.4 160.8,94.8 161.2,94.1 161.6,93.4 162.0,92.7 162.3,92.0 162.7,91.4 163.0,90.8 163.3,90.3 163.6,89.8 163.8,89.4 164.0,89.1" fill="none" stroke="#b5481a" stroke-width="0.7" stroke-linejoin="round"/>
<rect x="35.1" y="143.8" width="2.7" height="2.7" fill="#b5481a"/>
<rect x="35.2" y="141.2" width="2.7" height="2.7" fill="#b5481a"/>
<rect x="35.2" y="138.6" width="2.7" height="2.7" fill="#b5481a"/>
<rect x="35.3" y="136.0" width="2.7" height="2.7" fill="#b5481a"/>
<rect x="35.3" y="133.4" width="2.7" height="2.7" fill="#b5481a"/>
<rect x="35.4" y="130.8" width="2.7" height="2.7" fill="#b5481a"/>
<rect x="35.5" y="128.2" width="2.7" height="2.7" fill="#b5481a"/>
<rect x="35.5" y="125.6" width="2.7" height="2.7" fill="#b5481a"/>
<rect x="35.6" y="123.0" width="2.7" height="2.7" fill="#b5481a"/>
<rect x="35.8" y="120.4" width="2.7" height="2.7" fill="#b5481a"/>
<rect x="36.0" y="117.8" width="2.7" height="2.7" fill="#b5481a"/>
<rect x="36.4" y="115.2" width="2.7" height="2.7" fill="#b5481a"/>
<rect x="37.6" y="112.9" width="2.7" height="2.7" fill="#b5481a"/>
<rect x="39.6" y="111.3" width="2.7" height="2.7" fill="#b5481a"/>
<rect x="42.0" y="110.4" width="2.7" height="2.7" fill="#b5481a"/>
<rect x="44.5" y="109.7" width="2.7" height="2.7" fill="#b5481a"/>
<rect x="47.1" y="109.3" width="2.7" height="2.7" fill="#b5481a"/>
<rect x="49.7" y="108.9" width="2.7" height="2.7" fill="#b5481a"/>
<rect x="52.2" y="108.6" width="2.7" height="2.7" fill="#b5481a"/>
<rect x="54.8" y="108.3" width="2.7" height="2.7" fill="#b5481a"/>
<rect x="57.4" y="108.1" width="2.7" height="2.7" fill="#b5481a"/>
<rect x="60.0" y="107.9" width="2.7" height="2.7" fill="#b5481a"/>
<rect x="62.6" y="107.7" width="2.7" height="2.7" fill="#b5481a"/>
<rect x="65.2" y="107.5" width="2.7" height="2.7" fill="#b5481a"/>
<rect x="67.8" y="107.3" width="2.7" height="2.7" fill="#b5481a"/>
<rect x="70.4" y="107.1" width="2.7" height="2.7" fill="#b5481a"/>
<rect x="73.0" y="107.0" width="2.7" height="2.7" fill="#b5481a"/>
<rect x="75.6" y="106.8" width="2.7" height="2.7" fill="#b5481a"/>
<rect x="78.2" y="106.7" width="2.7" height="2.7" fill="#b5481a"/>
<rect x="80.8" y="106.6" width="2.7" height="2.7" fill="#b5481a"/>
<rect x="83.4" y="106.4" width="2.7" height="2.7" fill="#b5481a"/>
<rect x="86.0" y="106.3" width="2.7" height="2.7" fill="#b5481a"/>
<rect x="88.5" y="106.2" width="2.7" height="2.7" fill="#b5481a"/>
<rect x="91.1" y="106.0" width="2.7" height="2.7" fill="#b5481a"/>
<rect x="93.7" y="105.9" width="2.7" height="2.7" fill="#b5481a"/>
<rect x="96.3" y="105.7" width="2.7" height="2.7" fill="#b5481a"/>
<rect x="98.9" y="105.6" width="2.7" height="2.7" fill="#b5481a"/>
<rect x="101.5" y="105.5" width="2.7" height="2.7" fill="#b5481a"/>
<rect x="104.1" y="105.3" width="2.7" height="2.7" fill="#b5481a"/>
<rect x="106.7" y="105.2" width="2.7" height="2.7" fill="#b5481a"/>
<rect x="109.3" y="105.1" width="2.7" height="2.7" fill="#b5481a"/>
<rect x="111.9" y="104.9" width="2.7" height="2.7" fill="#b5481a"/>
<rect x="114.5" y="104.8" width="2.7" height="2.7" fill="#b5481a"/>
<rect x="117.1" y="104.6" width="2.7" height="2.7" fill="#b5481a"/>
<rect x="119.7" y="104.4" width="2.7" height="2.7" fill="#b5481a"/>
<rect x="122.3" y="104.3" width="2.7" height="2.7" fill="#b5481a"/>
<rect x="124.9" y="104.1" width="2.7" height="2.7" fill="#b5481a"/>
<rect x="127.5" y="103.9" width="2.7" height="2.7" fill="#b5481a"/>
<rect x="130.1" y="103.6" width="2.7" height="2.7" fill="#b5481a"/>
<rect x="132.7" y="103.4" width="2.7" height="2.7" fill="#b5481a"/>
<rect x="135.2" y="103.2" width="2.7" height="2.7" fill="#b5481a"/>
<rect x="137.8" y="102.9" width="2.7" height="2.7" fill="#b5481a"/>
<rect x="140.4" y="102.5" width="2.7" height="2.7" fill="#b5481a"/>
<rect x="143.0" y="102.1" width="2.7" height="2.7" fill="#b5481a"/>
<rect x="145.5" y="101.7" width="2.7" height="2.7" fill="#b5481a"/>
<rect x="148.1" y="101.1" width="2.7" height="2.7" fill="#b5481a"/>
<rect x="150.6" y="100.3" width="2.7" height="2.7" fill="#b5481a"/>
<rect x="152.9" y="99.3" width="2.7" height="2.7" fill="#b5481a"/>
<rect x="155.2" y="97.9" width="2.7" height="2.7" fill="#b5481a"/>
<rect x="157.1" y="96.2" width="2.7" height="2.7" fill="#b5481a"/>
<rect x="158.8" y="94.3" width="2.7" height="2.7" fill="#b5481a"/>
<rect x="160.2" y="92.1" width="2.7" height="2.7" fill="#b5481a"/>
<rect x="161.5" y="89.8" width="2.7" height="2.7" fill="#b5481a"/>
<rect x="162.6" y="87.7" width="2.7" height="2.7" fill="#b5481a"/>
<polyline points="164.0,89.1 163.4,89.9 162.5,91.2 161.6,92.5 160.8,93.6 160.1,94.4 159.5,95.1 158.9,95.8 158.2,96.5 157.4,97.2 156.4,98.0 155.4,98.8 154.4,99.5 153.3,100.2 152.2,100.9 150.9,101.5 149.2,102.1 146.8,102.6 143.8,103.1 140.9,103.6 139.0,103.9" fill="none" stroke="#b5481a" stroke-width="0.7" stroke-linejoin="round"/>
<rect x="162.6" y="87.7" width="2.7" height="2.7" fill="#b5481a"/>
<rect x="160.8" y="90.3" width="2.7" height="2.7" fill="#b5481a"/>
<rect x="158.9" y="92.9" width="2.7" height="2.7" fill="#b5481a"/>
<rect x="156.7" y="95.3" width="2.7" height="2.7" fill="#b5481a"/>
<rect x="154.3" y="97.3" width="2.7" height="2.7" fill="#b5481a"/>
<rect x="151.6" y="99.1" width="2.7" height="2.7" fill="#b5481a"/>
<rect x="148.7" y="100.4" width="2.7" height="2.7" fill="#b5481a"/>
<rect x="145.6" y="101.2" width="2.7" height="2.7" fill="#b5481a"/>
<rect x="142.5" y="101.8" width="2.7" height="2.7" fill="#b5481a"/>
<rect x="139.3" y="102.3" width="2.7" height="2.7" fill="#b5481a"/>
<rect x="137.6" y="102.6" width="2.7" height="2.7" fill="#b5481a"/>
<text x="69.4" y="13.3" font-size="8.4" fill="#111" textLength="54.8" lengthAdjust="spacingAndGlyphs">UiO-66-NH<tspan font-size="5.6" dy="1.2">2</tspan><tspan dy="-1.2">-</tspan><tspan font-weight="bold">X</tspan></text>
<line x1="100.2" y1="20" x2="118.4" y2="20" stroke="#000000" stroke-width="0.7"/>
<circle cx="109.30000000000001" cy="20" r="1.4" fill="#000000"/>
<text x="120.6" y="22.8" font-size="7.8" text-anchor="start" font-weight="normal" fill="#000" >0</text>
<line x1="100.2" y1="29.9" x2="118.4" y2="29.9" stroke="#2a2aff" stroke-width="0.7"/>
<circle cx="109.30000000000001" cy="29.9" r="1.4" fill="#1a1ae6"/>
<text x="120.6" y="32.7" font-size="7.8" text-anchor="start" font-weight="normal" fill="#000" >25</text>
<line x1="100.2" y1="39.7" x2="118.4" y2="39.7" stroke="#3a7a22" stroke-width="0.7"/>
<circle cx="109.30000000000001" cy="39.7" r="1.4" fill="#2f6b1e"/>
<text x="120.6" y="42.5" font-size="7.8" text-anchor="start" font-weight="normal" fill="#000" >50</text>
<line x1="100.2" y1="49.5" x2="118.4" y2="49.5" stroke="#d4b030" stroke-width="0.7"/>
<circle cx="109.30000000000001" cy="49.5" r="1.4" fill="#c9a227"/>
<text x="120.6" y="52.3" font-size="7.8" text-anchor="start" font-weight="normal" fill="#000" >75</text>
<line x1="100.2" y1="59.1" x2="118.4" y2="59.1" stroke="#c0501c" stroke-width="0.7"/>
<circle cx="109.30000000000001" cy="59.1" r="1.4" fill="#b5481a"/>
<text x="120.6" y="61.9" font-size="7.8" text-anchor="start" font-weight="normal" fill="#000" >100</text>
<path d="M221.0 10.5 L221.0 145.3 L349.2 145.3" fill="none" stroke="#2a2a2a" stroke-width="0.95"/>
<line x1="218.2" y1="145.3" x2="221.0" y2="145.3" stroke="#2a2a2a" stroke-width="0.85"/>
<line x1="219.5" y1="122.8" x2="221.0" y2="122.8" stroke="#2a2a2a" stroke-width="0.85"/>
<line x1="219.5" y1="100.4" x2="221.0" y2="100.4" stroke="#2a2a2a" stroke-width="0.85"/>
<line x1="219.5" y1="77.9" x2="221.0" y2="77.9" stroke="#2a2a2a" stroke-width="0.85"/>
<line x1="219.5" y1="55.4" x2="221.0" y2="55.4" stroke="#2a2a2a" stroke-width="0.85"/>
<line x1="219.5" y1="33.0" x2="221.0" y2="33.0" stroke="#2a2a2a" stroke-width="0.85"/>
<line x1="218.2" y1="10.5" x2="221.0" y2="10.5" stroke="#2a2a2a" stroke-width="0.85"/>
<text x="215.2" y="12.7" font-size="7.7" text-anchor="end" font-weight="normal" fill="#000" >0.1</text>
<text x="215.6" y="147.4" font-size="7.7" text-anchor="end" font-weight="normal" fill="#000" >0.0</text>
<line x1="228.0" y1="145.3" x2="228.0" y2="146.5" stroke="#2a2a2a" stroke-width="0.7"/>
<line x1="239.0" y1="145.3" x2="239.0" y2="146.5" stroke="#2a2a2a" stroke-width="0.7"/>
<line x1="246.8" y1="145.3" x2="246.8" y2="146.5" stroke="#2a2a2a" stroke-width="0.7"/>
<line x1="252.8" y1="145.3" x2="252.8" y2="146.5" stroke="#2a2a2a" stroke-width="0.7"/>
<line x1="257.8" y1="145.3" x2="257.8" y2="146.5" stroke="#2a2a2a" stroke-width="0.7"/>
<line x1="261.9" y1="145.3" x2="261.9" y2="146.5" stroke="#2a2a2a" stroke-width="0.7"/>
<line x1="265.6" y1="145.3" x2="265.6" y2="146.5" stroke="#2a2a2a" stroke-width="0.7"/>
<line x1="268.7" y1="145.3" x2="268.7" y2="146.5" stroke="#2a2a2a" stroke-width="0.7"/>
<line x1="271.6" y1="145.3" x2="271.6" y2="147.5" stroke="#2a2a2a" stroke-width="0.7"/>
<line x1="290.4" y1="145.3" x2="290.4" y2="146.5" stroke="#2a2a2a" stroke-width="0.7"/>
<line x1="301.4" y1="145.3" x2="301.4" y2="146.5" stroke="#2a2a2a" stroke-width="0.7"/>
<line x1="309.2" y1="145.3" x2="309.2" y2="146.5" stroke="#2a2a2a" stroke-width="0.7"/>
<line x1="315.2" y1="145.3" x2="315.2" y2="146.5" stroke="#2a2a2a" stroke-width="0.7"/>
<line x1="320.2" y1="145.3" x2="320.2" y2="146.5" stroke="#2a2a2a" stroke-width="0.7"/>
<line x1="324.3" y1="145.3" x2="324.3" y2="146.5" stroke="#2a2a2a" stroke-width="0.7"/>
<line x1="328.0" y1="145.3" x2="328.0" y2="146.5" stroke="#2a2a2a" stroke-width="0.7"/>
<line x1="331.1" y1="145.3" x2="331.1" y2="146.5" stroke="#2a2a2a" stroke-width="0.7"/>
<line x1="334.0" y1="145.3" x2="334.0" y2="147.5" stroke="#2a2a2a" stroke-width="0.7"/>
<text x="271.6" y="156.0" font-size="7.7" text-anchor="middle" font-weight="normal" fill="#000" >10</text>
<text x="333.7" y="156.0" font-size="7.7" text-anchor="middle" font-weight="normal" fill="#000" >100</text>
<text transform="translate(207.3,73.5) rotate(-90)" x="-44.2" font-size="8.4" text-anchor="start" fill="#000" textLength="88.4" lengthAdjust="spacingAndGlyphs">Pore volume, cm<tspan font-size="5.5" dy="-2.5">3</tspan><tspan dy="2.5">/g·nm</tspan></text>
<text x="288.2" y="164.7" font-size="8.6" text-anchor="middle" font-weight="normal" fill="#000" >Pore diameter, nm</text>
<text x="283.7" y="177.0" font-size="8.2" text-anchor="middle" font-weight="normal" fill="#000" >(b)</text>
<polyline points="227.2,16.8 229.2,16.8 230.5,38.0 232.0,58.4 234.8,81.5 236.4,92.6 238.6,104.0 240.6,106.5 242.7,108.4 245.3,110.6 247.9,113.8 249.6,119.0 251.6,121.8 254.0,123.9 256.4,125.8 259.1,127.2 262.5,128.4 267.0,129.2 271.6,129.6 276.0,129.3 280.4,128.6 285.9,127.2 293.4,127.2 313.6,139.1 330.3,144.7 347.0,144.9" fill="none" stroke="#000000" stroke-width="0.7" stroke-linejoin="round"/>
<rect x="225.9" y="15.6" width="2.5" height="2.5" fill="#000000"/>
<rect x="227.9" y="15.6" width="2.5" height="2.5" fill="#000000"/>
<rect x="229.2" y="36.8" width="2.5" height="2.5" fill="#000000"/>
<rect x="230.8" y="57.1" width="2.5" height="2.5" fill="#000000"/>
<rect x="233.6" y="80.2" width="2.5" height="2.5" fill="#000000"/>
<rect x="235.2" y="91.3" width="2.5" height="2.5" fill="#000000"/>
<rect x="237.3" y="102.8" width="2.5" height="2.5" fill="#000000"/>
<rect x="239.3" y="105.2" width="2.5" height="2.5" fill="#000000"/>
<rect x="241.4" y="107.2" width="2.5" height="2.5" fill="#000000"/>
<rect x="244.1" y="109.3" width="2.5" height="2.5" fill="#000000"/>
<rect x="245.9" y="111.7" width="2.5" height="2.5" fill="#000000"/>
<rect x="247.2" y="114.3" width="2.5" height="2.5" fill="#000000"/>
<rect x="248.2" y="117.2" width="2.5" height="2.5" fill="#000000"/>
<rect x="249.7" y="119.7" width="2.5" height="2.5" fill="#000000"/>
<rect x="251.8" y="121.8" width="2.5" height="2.5" fill="#000000"/>
<rect x="254.1" y="123.8" width="2.5" height="2.5" fill="#000000"/>
<rect x="256.7" y="125.3" width="2.5" height="2.5" fill="#000000"/>
<rect x="259.4" y="126.5" width="2.5" height="2.5" fill="#000000"/>
<rect x="262.3" y="127.3" width="2.5" height="2.5" fill="#000000"/>
<rect x="265.3" y="127.9" width="2.5" height="2.5" fill="#000000"/>
<rect x="268.2" y="128.2" width="2.5" height="2.5" fill="#000000"/>
<rect x="271.2" y="128.3" width="2.5" height="2.5" fill="#000000"/>
<rect x="274.2" y="128.1" width="2.5" height="2.5" fill="#000000"/>
<rect x="277.2" y="127.7" width="2.5" height="2.5" fill="#000000"/>
<rect x="280.1" y="127.1" width="2.5" height="2.5" fill="#000000"/>
<rect x="283.0" y="126.4" width="2.5" height="2.5" fill="#000000"/>
<rect x="286.0" y="126.0" width="2.5" height="2.5" fill="#000000"/>
<rect x="289.0" y="126.0" width="2.5" height="2.5" fill="#000000"/>
<rect x="292.0" y="126.0" width="2.5" height="2.5" fill="#000000"/>
<rect x="292.1" y="126.0" width="2.5" height="2.5" fill="#000000"/>
<rect x="312.4" y="137.8" width="2.5" height="2.5" fill="#000000"/>
<rect x="329.1" y="143.4" width="2.5" height="2.5" fill="#000000"/>
<rect x="345.8" y="143.7" width="2.5" height="2.5" fill="#000000"/>
<polyline points="226.5,16.8 228.5,16.8 228.6,35.9 230.0,55.0 232.0,70.7 234.3,90.0 237.3,106.0 240.2,111.5 243.5,115.0 246.4,117.8 249.5,125.0 252.7,130.4 256.0,132.5 260.3,134.2 265.5,135.6 271.6,136.7 278.0,137.6 285.0,138.6 295.0,140.4 305.0,141.8 318.0,143.3 332.0,144.7 347.0,144.9" fill="none" stroke="#1a1ae6" stroke-width="0.7" stroke-linejoin="round"/>
<circle cx="226.5" cy="16.8" r="1.25" fill="#1a1ae6"/>
<circle cx="228.5" cy="16.8" r="1.25" fill="#1a1ae6"/>
<circle cx="228.6" cy="35.9" r="1.25" fill="#1a1ae6"/>
<circle cx="230.0" cy="55.0" r="1.25" fill="#1a1ae6"/>
<circle cx="232.0" cy="70.7" r="1.25" fill="#1a1ae6"/>
<circle cx="234.3" cy="90.0" r="1.25" fill="#1a1ae6"/>
<circle cx="237.3" cy="106.0" r="1.25" fill="#1a1ae6"/>
<circle cx="240.2" cy="111.5" r="1.25" fill="#1a1ae6"/>
<circle cx="243.5" cy="115.0" r="1.25" fill="#1a1ae6"/>
<circle cx="243.5" cy="115.0" r="1.25" fill="#1a1ae6"/>
<circle cx="245.4" cy="116.9" r="1.25" fill="#1a1ae6"/>
<circle cx="246.9" cy="119.1" r="1.25" fill="#1a1ae6"/>
<circle cx="248.0" cy="121.5" r="1.25" fill="#1a1ae6"/>
<circle cx="249.1" cy="124.0" r="1.25" fill="#1a1ae6"/>
<circle cx="250.3" cy="126.4" r="1.25" fill="#1a1ae6"/>
<circle cx="251.7" cy="128.7" r="1.25" fill="#1a1ae6"/>
<circle cx="253.3" cy="130.8" r="1.25" fill="#1a1ae6"/>
<circle cx="255.6" cy="132.3" r="1.25" fill="#1a1ae6"/>
<circle cx="258.1" cy="133.3" r="1.25" fill="#1a1ae6"/>
<circle cx="260.6" cy="134.3" r="1.25" fill="#1a1ae6"/>
<circle cx="263.2" cy="135.0" r="1.25" fill="#1a1ae6"/>
<circle cx="265.8" cy="135.7" r="1.25" fill="#1a1ae6"/>
<circle cx="268.5" cy="136.1" r="1.25" fill="#1a1ae6"/>
<circle cx="271.1" cy="136.6" r="1.25" fill="#1a1ae6"/>
<circle cx="273.8" cy="137.0" r="1.25" fill="#1a1ae6"/>
<circle cx="276.5" cy="137.4" r="1.25" fill="#1a1ae6"/>
<circle cx="279.2" cy="137.8" r="1.25" fill="#1a1ae6"/>
<circle cx="281.8" cy="138.1" r="1.25" fill="#1a1ae6"/>
<circle cx="284.5" cy="138.5" r="1.25" fill="#1a1ae6"/>
<circle cx="287.2" cy="139.0" r="1.25" fill="#1a1ae6"/>
<circle cx="289.8" cy="139.5" r="1.25" fill="#1a1ae6"/>
<circle cx="292.5" cy="139.9" r="1.25" fill="#1a1ae6"/>
<circle cx="295.0" cy="140.4" r="1.25" fill="#1a1ae6"/>
<circle cx="305.0" cy="141.8" r="1.25" fill="#1a1ae6"/>
<circle cx="318.0" cy="143.3" r="1.25" fill="#1a1ae6"/>
<circle cx="332.0" cy="144.7" r="1.25" fill="#1a1ae6"/>
<circle cx="347.0" cy="144.9" r="1.25" fill="#1a1ae6"/>
<polyline points="226.2,16.8 227.8,16.8 228.0,31.0 229.0,50.0 230.5,70.0 232.8,90.0 235.0,103.0 237.2,112.0 240.2,119.0 243.5,125.0 247.0,130.0 251.0,134.0 255.5,136.8 261.0,138.5 267.0,139.6 274.0,140.5 282.0,141.4 292.0,142.4 305.0,143.3 320.0,144.5 347.0,144.9" fill="none" stroke="#2f6b1e" stroke-width="0.7" stroke-linejoin="round"/>
<circle cx="226.2" cy="16.8" r="1.25" fill="#2f6b1e"/>
<circle cx="227.8" cy="16.8" r="1.25" fill="#2f6b1e"/>
<circle cx="228.0" cy="31.0" r="1.25" fill="#2f6b1e"/>
<circle cx="229.0" cy="50.0" r="1.25" fill="#2f6b1e"/>
<circle cx="230.5" cy="70.0" r="1.25" fill="#2f6b1e"/>
<circle cx="232.8" cy="90.0" r="1.25" fill="#2f6b1e"/>
<circle cx="235.0" cy="103.0" r="1.25" fill="#2f6b1e"/>
<circle cx="237.2" cy="112.0" r="1.25" fill="#2f6b1e"/>
<circle cx="240.2" cy="119.0" r="1.25" fill="#2f6b1e"/>
<circle cx="243.5" cy="125.0" r="1.25" fill="#2f6b1e"/>
<circle cx="243.5" cy="125.0" r="1.25" fill="#2f6b1e"/>
<circle cx="245.0" cy="127.2" r="1.25" fill="#2f6b1e"/>
<circle cx="246.6" cy="129.4" r="1.25" fill="#2f6b1e"/>
<circle cx="248.4" cy="131.4" r="1.25" fill="#2f6b1e"/>
<circle cx="250.3" cy="133.3" r="1.25" fill="#2f6b1e"/>
<circle cx="252.5" cy="134.9" r="1.25" fill="#2f6b1e"/>
<circle cx="254.8" cy="136.3" r="1.25" fill="#2f6b1e"/>
<circle cx="257.3" cy="137.3" r="1.25" fill="#2f6b1e"/>
<circle cx="259.8" cy="138.1" r="1.25" fill="#2f6b1e"/>
<circle cx="262.5" cy="138.8" r="1.25" fill="#2f6b1e"/>
<circle cx="265.1" cy="139.3" r="1.25" fill="#2f6b1e"/>
<circle cx="267.8" cy="139.7" r="1.25" fill="#2f6b1e"/>
<circle cx="270.5" cy="140.0" r="1.25" fill="#2f6b1e"/>
<circle cx="273.1" cy="140.4" r="1.25" fill="#2f6b1e"/>
<circle cx="275.8" cy="140.7" r="1.25" fill="#2f6b1e"/>
<circle cx="278.5" cy="141.0" r="1.25" fill="#2f6b1e"/>
<circle cx="281.2" cy="141.3" r="1.25" fill="#2f6b1e"/>
<circle cx="283.9" cy="141.6" r="1.25" fill="#2f6b1e"/>
<circle cx="286.6" cy="141.9" r="1.25" fill="#2f6b1e"/>
<circle cx="289.2" cy="142.1" r="1.25" fill="#2f6b1e"/>
<circle cx="291.9" cy="142.4" r="1.25" fill="#2f6b1e"/>
<circle cx="292.0" cy="142.4" r="1.25" fill="#2f6b1e"/>
<circle cx="305.0" cy="143.3" r="1.25" fill="#2f6b1e"/>
<circle cx="320.0" cy="144.5" r="1.25" fill="#2f6b1e"/>
<circle cx="347.0" cy="144.9" r="1.25" fill="#2f6b1e"/>
<polyline points="225.8,16.8 227.0,16.8 227.2,33.0 227.6,50.0 228.5,67.5 231.3,86.4 232.8,102.7 235.1,112.8 237.6,119.0 240.2,124.1 242.7,128.5 245.2,131.6 248.5,134.8 252.7,137.2 258.0,138.8 265.3,140.0 273.0,140.7 280.4,141.2 290.0,142.4 300.0,143.3 315.0,144.5 347.0,144.9" fill="none" stroke="#c9a227" stroke-width="0.7" stroke-linejoin="round"/>
<circle cx="225.8" cy="16.8" r="1.25" fill="#c9a227"/>
<circle cx="227.0" cy="16.8" r="1.25" fill="#c9a227"/>
<circle cx="227.2" cy="33.0" r="1.25" fill="#c9a227"/>
<circle cx="227.6" cy="50.0" r="1.25" fill="#c9a227"/>
<circle cx="228.5" cy="67.5" r="1.25" fill="#c9a227"/>
<circle cx="231.3" cy="86.4" r="1.25" fill="#c9a227"/>
<circle cx="232.8" cy="102.7" r="1.25" fill="#c9a227"/>
<circle cx="235.1" cy="112.8" r="1.25" fill="#c9a227"/>
<circle cx="237.6" cy="119.0" r="1.25" fill="#c9a227"/>
<circle cx="240.2" cy="124.1" r="1.25" fill="#c9a227"/>
<circle cx="242.7" cy="128.5" r="1.25" fill="#c9a227"/>
<circle cx="245.2" cy="131.6" r="1.25" fill="#c9a227"/>
<circle cx="247.1" cy="133.5" r="1.25" fill="#c9a227"/>
<circle cx="249.2" cy="135.2" r="1.25" fill="#c9a227"/>
<circle cx="251.5" cy="136.5" r="1.25" fill="#c9a227"/>
<circle cx="254.0" cy="137.6" r="1.25" fill="#c9a227"/>
<circle cx="256.6" cy="138.4" r="1.25" fill="#c9a227"/>
<circle cx="259.2" cy="139.0" r="1.25" fill="#c9a227"/>
<circle cx="261.9" cy="139.4" r="1.25" fill="#c9a227"/>
<circle cx="264.5" cy="139.9" r="1.25" fill="#c9a227"/>
<circle cx="267.2" cy="140.2" r="1.25" fill="#c9a227"/>
<circle cx="269.9" cy="140.4" r="1.25" fill="#c9a227"/>
<circle cx="272.6" cy="140.7" r="1.25" fill="#c9a227"/>
<circle cx="275.3" cy="140.9" r="1.25" fill="#c9a227"/>
<circle cx="278.0" cy="141.0" r="1.25" fill="#c9a227"/>
<circle cx="280.7" cy="141.2" r="1.25" fill="#c9a227"/>
<circle cx="283.4" cy="141.6" r="1.25" fill="#c9a227"/>
<circle cx="286.0" cy="141.9" r="1.25" fill="#c9a227"/>
<circle cx="288.7" cy="142.2" r="1.25" fill="#c9a227"/>
<circle cx="290.0" cy="142.4" r="1.25" fill="#c9a227"/>
<circle cx="300.0" cy="143.3" r="1.25" fill="#c9a227"/>
<circle cx="315.0" cy="144.5" r="1.25" fill="#c9a227"/>
<circle cx="347.0" cy="144.9" r="1.25" fill="#c9a227"/>
<polyline points="225.8,16.8 228.0,16.8 226.0,30.0 226.4,45.7 228.0,60.5 230.3,77.3 232.0,89.9 233.3,103.0 235.5,113.0 238.0,119.4 240.6,124.4 243.2,128.8 246.0,131.8 249.5,134.8 253.5,137.0 259.0,138.7 266.0,139.9 274.0,140.7 282.0,141.3 292.0,142.4 303.0,143.3 318.0,144.5 347.0,144.9" fill="none" stroke="#b5481a" stroke-width="0.7" stroke-linejoin="round"/>
<circle cx="225.8" cy="16.8" r="1.25" fill="#b5481a"/>
<circle cx="228.0" cy="16.8" r="1.25" fill="#b5481a"/>
<circle cx="226.0" cy="30.0" r="1.25" fill="#b5481a"/>
<circle cx="226.4" cy="45.7" r="1.25" fill="#b5481a"/>
<circle cx="228.0" cy="60.5" r="1.25" fill="#b5481a"/>
<circle cx="230.3" cy="77.3" r="1.25" fill="#b5481a"/>
<circle cx="232.0" cy="89.9" r="1.25" fill="#b5481a"/>
<circle cx="233.3" cy="103.0" r="1.25" fill="#b5481a"/>
<circle cx="235.5" cy="113.0" r="1.25" fill="#b5481a"/>
<circle cx="238.0" cy="119.4" r="1.25" fill="#b5481a"/>
<circle cx="240.6" cy="124.4" r="1.25" fill="#b5481a"/>
<circle cx="243.2" cy="128.8" r="1.25" fill="#b5481a"/>
<circle cx="243.2" cy="128.8" r="1.25" fill="#b5481a"/>
<circle cx="245.0" cy="130.8" r="1.25" fill="#b5481a"/>
<circle cx="247.0" cy="132.6" r="1.25" fill="#b5481a"/>
<circle cx="249.0" cy="134.4" r="1.25" fill="#b5481a"/>
<circle cx="251.3" cy="135.8" r="1.25" fill="#b5481a"/>
<circle cx="253.7" cy="137.1" r="1.25" fill="#b5481a"/>
<circle cx="256.3" cy="137.9" r="1.25" fill="#b5481a"/>
<circle cx="258.9" cy="138.7" r="1.25" fill="#b5481a"/>
<circle cx="261.5" cy="139.1" r="1.25" fill="#b5481a"/>
<circle cx="264.2" cy="139.6" r="1.25" fill="#b5481a"/>
<circle cx="266.9" cy="140.0" r="1.25" fill="#b5481a"/>
<circle cx="269.5" cy="140.3" r="1.25" fill="#b5481a"/>
<circle cx="272.2" cy="140.5" r="1.25" fill="#b5481a"/>
<circle cx="274.9" cy="140.8" r="1.25" fill="#b5481a"/>
<circle cx="277.6" cy="141.0" r="1.25" fill="#b5481a"/>
<circle cx="280.3" cy="141.2" r="1.25" fill="#b5481a"/>
<circle cx="283.0" cy="141.4" r="1.25" fill="#b5481a"/>
<circle cx="285.7" cy="141.7" r="1.25" fill="#b5481a"/>
<circle cx="288.4" cy="142.0" r="1.25" fill="#b5481a"/>
<circle cx="291.0" cy="142.3" r="1.25" fill="#b5481a"/>
<circle cx="292.0" cy="142.4" r="1.25" fill="#b5481a"/>
<circle cx="303.0" cy="143.3" r="1.25" fill="#b5481a"/>
<circle cx="318.0" cy="144.5" r="1.25" fill="#b5481a"/>
<circle cx="347.0" cy="144.9" r="1.25" fill="#b5481a"/>
<text x="290.2" y="13.5" font-size="8.4" fill="#111" textLength="54.4" lengthAdjust="spacingAndGlyphs">UiO-66-NH<tspan font-size="5.6" dy="1.2">2</tspan><tspan dy="-1.2">-</tspan><tspan font-weight="bold">X</tspan></text>
<line x1="320.5" y1="20.9" x2="338.7" y2="20.9" stroke="#000000" stroke-width="0.7"/>
<circle cx="329.6" cy="20.9" r="1.4" fill="#000000"/>
<text x="341.8" y="23.7" font-size="7.8" text-anchor="start" font-weight="normal" fill="#000" >0</text>
<line x1="320.5" y1="30.7" x2="338.7" y2="30.7" stroke="#2a2aff" stroke-width="0.7"/>
<circle cx="329.6" cy="30.7" r="1.4" fill="#1a1ae6"/>
<text x="341.8" y="33.5" font-size="7.8" text-anchor="start" font-weight="normal" fill="#000" >25</text>
<line x1="320.5" y1="40.7" x2="338.7" y2="40.7" stroke="#3a7a22" stroke-width="0.7"/>
<circle cx="329.6" cy="40.7" r="1.4" fill="#2f6b1e"/>
<text x="341.8" y="43.5" font-size="7.8" text-anchor="start" font-weight="normal" fill="#000" >50</text>
<line x1="320.5" y1="50.5" x2="338.7" y2="50.5" stroke="#d4b030" stroke-width="0.7"/>
<circle cx="329.6" cy="50.5" r="1.4" fill="#c9a227"/>
<text x="341.8" y="53.3" font-size="7.8" text-anchor="start" font-weight="normal" fill="#000" >75</text>
<line x1="320.5" y1="60.1" x2="338.7" y2="60.1" stroke="#c0501c" stroke-width="0.7"/>
<circle cx="329.6" cy="60.1" r="1.4" fill="#b5481a"/>
<text x="341.8" y="62.9" font-size="7.8" text-anchor="start" font-weight="normal" fill="#000" >100</text>
<path d="M408.6 10.05 L408.6 145.1 L538 145.1" fill="none" stroke="#2a2a2a" stroke-width="0.95"/>
<line x1="405.8" y1="145.1" x2="408.6" y2="145.1" stroke="#2a2a2a" stroke-width="0.85"/>
<text x="403.9" y="147.0" font-size="7.7" text-anchor="end" font-weight="normal" fill="#000" >0.0</text>
<line x1="407.40000000000003" y1="136.7" x2="408.6" y2="136.7" stroke="#2a2a2a" stroke-width="0.7"/>
<line x1="405.8" y1="128.2" x2="408.6" y2="128.2" stroke="#2a2a2a" stroke-width="0.85"/>
<text x="403.9" y="130.1" font-size="7.7" text-anchor="end" font-weight="normal" fill="#000" >0.1</text>
<line x1="407.40000000000003" y1="119.8" x2="408.6" y2="119.8" stroke="#2a2a2a" stroke-width="0.7"/>
<line x1="405.8" y1="111.3" x2="408.6" y2="111.3" stroke="#2a2a2a" stroke-width="0.85"/>
<text x="403.9" y="113.2" font-size="7.7" text-anchor="end" font-weight="normal" fill="#000" >0.2</text>
<line x1="407.40000000000003" y1="102.9" x2="408.6" y2="102.9" stroke="#2a2a2a" stroke-width="0.7"/>
<line x1="405.8" y1="94.5" x2="408.6" y2="94.5" stroke="#2a2a2a" stroke-width="0.85"/>
<text x="403.9" y="96.4" font-size="7.7" text-anchor="end" font-weight="normal" fill="#000" >0.3</text>
<line x1="407.40000000000003" y1="86.0" x2="408.6" y2="86.0" stroke="#2a2a2a" stroke-width="0.7"/>
<line x1="405.8" y1="77.6" x2="408.6" y2="77.6" stroke="#2a2a2a" stroke-width="0.85"/>
<text x="403.9" y="79.5" font-size="7.7" text-anchor="end" font-weight="normal" fill="#000" >0.4</text>
<line x1="407.40000000000003" y1="69.1" x2="408.6" y2="69.1" stroke="#2a2a2a" stroke-width="0.7"/>
<line x1="405.8" y1="60.7" x2="408.6" y2="60.7" stroke="#2a2a2a" stroke-width="0.85"/>
<text x="403.9" y="62.6" font-size="7.7" text-anchor="end" font-weight="normal" fill="#000" >0.5</text>
<line x1="407.40000000000003" y1="52.3" x2="408.6" y2="52.3" stroke="#2a2a2a" stroke-width="0.7"/>
<line x1="405.8" y1="43.8" x2="408.6" y2="43.8" stroke="#2a2a2a" stroke-width="0.85"/>
<text x="403.9" y="45.7" font-size="7.7" text-anchor="end" font-weight="normal" fill="#000" >0.6</text>
<line x1="407.40000000000003" y1="35.4" x2="408.6" y2="35.4" stroke="#2a2a2a" stroke-width="0.7"/>
<line x1="405.8" y1="26.9" x2="408.6" y2="26.9" stroke="#2a2a2a" stroke-width="0.85"/>
<text x="403.9" y="28.8" font-size="7.7" text-anchor="end" font-weight="normal" fill="#000" >0.7</text>
<line x1="407.40000000000003" y1="18.5" x2="408.6" y2="18.5" stroke="#2a2a2a" stroke-width="0.7"/>
<line x1="405.8" y1="10.1" x2="408.6" y2="10.1" stroke="#2a2a2a" stroke-width="0.85"/>
<text x="403.9" y="12.0" font-size="7.7" text-anchor="end" font-weight="normal" fill="#000" >0.8</text>
<line x1="418.0" y1="145.1" x2="418.0" y2="146.29999999999998" stroke="#2a2a2a" stroke-width="0.7"/>
<line x1="426.8" y1="145.1" x2="426.8" y2="146.29999999999998" stroke="#2a2a2a" stroke-width="0.7"/>
<line x1="434.3" y1="145.1" x2="434.3" y2="146.29999999999998" stroke="#2a2a2a" stroke-width="0.7"/>
<line x1="441.0" y1="145.1" x2="441.0" y2="146.29999999999998" stroke="#2a2a2a" stroke-width="0.7"/>
<line x1="447.0" y1="145.1" x2="447.0" y2="147.29999999999998" stroke="#2a2a2a" stroke-width="0.7"/>
<line x1="457.3" y1="145.1" x2="457.3" y2="146.29999999999998" stroke="#2a2a2a" stroke-width="0.7"/>
<line x1="466.1" y1="145.1" x2="466.1" y2="146.29999999999998" stroke="#2a2a2a" stroke-width="0.7"/>
<line x1="473.7" y1="145.1" x2="473.7" y2="146.29999999999998" stroke="#2a2a2a" stroke-width="0.7"/>
<line x1="480.3" y1="145.1" x2="480.3" y2="146.29999999999998" stroke="#2a2a2a" stroke-width="0.7"/>
<line x1="486.3" y1="145.1" x2="486.3" y2="147.29999999999998" stroke="#2a2a2a" stroke-width="0.7"/>
<line x1="491.7" y1="145.1" x2="491.7" y2="146.29999999999998" stroke="#2a2a2a" stroke-width="0.7"/>
<line x1="496.7" y1="145.1" x2="496.7" y2="146.29999999999998" stroke="#2a2a2a" stroke-width="0.7"/>
<line x1="501.2" y1="145.1" x2="501.2" y2="146.29999999999998" stroke="#2a2a2a" stroke-width="0.7"/>
<line x1="505.4" y1="145.1" x2="505.4" y2="146.29999999999998" stroke="#2a2a2a" stroke-width="0.7"/>
<line x1="509.3" y1="145.1" x2="509.3" y2="147.29999999999998" stroke="#2a2a2a" stroke-width="0.7"/>
<line x1="518.1" y1="145.1" x2="518.1" y2="146.29999999999998" stroke="#2a2a2a" stroke-width="0.7"/>
<line x1="525.6" y1="145.1" x2="525.6" y2="147.29999999999998" stroke="#2a2a2a" stroke-width="0.7"/>
<line x1="532.3" y1="145.1" x2="532.3" y2="146.29999999999998" stroke="#2a2a2a" stroke-width="0.7"/>
<line x1="538.3" y1="145.1" x2="538.3" y2="147.29999999999998" stroke="#2a2a2a" stroke-width="0.7"/>
<text x="447.0" y="155.7" font-size="7.7" text-anchor="middle" font-weight="normal" fill="#000" >1</text>
<text x="486.3" y="155.7" font-size="7.7" text-anchor="middle" font-weight="normal" fill="#000" >2</text>
<text x="509.3" y="155.7" font-size="7.7" text-anchor="middle" font-weight="normal" fill="#000" >3</text>
<text x="525.6" y="155.7" font-size="7.7" text-anchor="middle" font-weight="normal" fill="#000" >4</text>
<text x="538.3" y="155.7" font-size="7.7" text-anchor="middle" font-weight="normal" fill="#000" >5</text>
<text transform="translate(387.8,72.7) rotate(-90)" x="-44.2" font-size="8.4" text-anchor="start" fill="#000" textLength="88.4" lengthAdjust="spacingAndGlyphs">Pore volume, cm<tspan font-size="5.5" dy="-2.5">3</tspan><tspan dy="2.5">/g·nm</tspan></text>
<text x="476.3" y="164.6" font-size="8.5" text-anchor="middle" font-weight="normal" fill="#000" >Pore diameter, nm</text>
<text x="473.2" y="177.2" font-size="8.2" text-anchor="middle" font-weight="normal" fill="#000" >(c)</text>
<polyline points="414.3,140.0 417.6,73.7 420.1,49.0 422.3,40.0 424.4,32.7 426.4,62.0 428.8,82.0 431.4,97.0 434.0,87.6 436.5,70.0 439.0,49.6 440.3,22.6 442.0,27.2 443.5,51.6 445.3,69.7 447.8,78.0 450.3,84.3 452.8,95.2 455.3,106.5 459.1,112.8 462.0,115.4 465.4,117.8 470.0,120.6 475.0,123.8 480.0,126.6 484.5,127.9 489.4,126.5 495.2,127.1 499.1,130.4 502.5,132.3 506.0,134.3 510.9,138.3 514.5,139.9 518.7,141.2 522.5,142.1 526.5,142.8 530.5,143.1 534.4,143.2" fill="none" stroke="#000000" stroke-width="0.7" stroke-linejoin="round"/>
<rect x="413.1" y="138.8" width="2.5" height="2.5" fill="#000000"/>
<rect x="416.4" y="72.5" width="2.5" height="2.5" fill="#000000"/>
<rect x="418.9" y="47.8" width="2.5" height="2.5" fill="#000000"/>
<rect x="421.1" y="38.8" width="2.5" height="2.5" fill="#000000"/>
<rect x="423.1" y="31.5" width="2.5" height="2.5" fill="#000000"/>
<rect x="425.1" y="60.8" width="2.5" height="2.5" fill="#000000"/>
<rect x="427.6" y="80.8" width="2.5" height="2.5" fill="#000000"/>
<rect x="430.1" y="95.8" width="2.5" height="2.5" fill="#000000"/>
<rect x="432.8" y="86.3" width="2.5" height="2.5" fill="#000000"/>
<rect x="435.2" y="68.8" width="2.5" height="2.5" fill="#000000"/>
<rect x="437.8" y="48.4" width="2.5" height="2.5" fill="#000000"/>
<rect x="439.1" y="21.4" width="2.5" height="2.5" fill="#000000"/>
<rect x="440.8" y="25.9" width="2.5" height="2.5" fill="#000000"/>
<rect x="442.2" y="50.4" width="2.5" height="2.5" fill="#000000"/>
<rect x="444.1" y="68.5" width="2.5" height="2.5" fill="#000000"/>
<rect x="446.6" y="76.8" width="2.5" height="2.5" fill="#000000"/>
<rect x="449.1" y="83.0" width="2.5" height="2.5" fill="#000000"/>
<rect x="451.6" y="94.0" width="2.5" height="2.5" fill="#000000"/>
<rect x="452.2" y="96.9" width="2.5" height="2.5" fill="#000000"/>
<rect x="452.8" y="99.8" width="2.5" height="2.5" fill="#000000"/>
<rect x="453.5" y="102.7" width="2.5" height="2.5" fill="#000000"/>
<rect x="454.3" y="105.6" width="2.5" height="2.5" fill="#000000"/>
<rect x="455.8" y="108.2" width="2.5" height="2.5" fill="#000000"/>
<rect x="457.4" y="110.8" width="2.5" height="2.5" fill="#000000"/>
<rect x="459.4" y="112.9" width="2.5" height="2.5" fill="#000000"/>
<rect x="461.7" y="114.8" width="2.5" height="2.5" fill="#000000"/>
<rect x="464.2" y="116.6" width="2.5" height="2.5" fill="#000000"/>
<rect x="466.7" y="118.1" width="2.5" height="2.5" fill="#000000"/>
<rect x="469.3" y="119.7" width="2.5" height="2.5" fill="#000000"/>
<rect x="471.8" y="121.3" width="2.5" height="2.5" fill="#000000"/>
<rect x="474.4" y="122.9" width="2.5" height="2.5" fill="#000000"/>
<rect x="477.0" y="124.4" width="2.5" height="2.5" fill="#000000"/>
<rect x="479.7" y="125.6" width="2.5" height="2.5" fill="#000000"/>
<rect x="482.6" y="126.4" width="2.5" height="2.5" fill="#000000"/>
<rect x="485.4" y="126.0" width="2.5" height="2.5" fill="#000000"/>
<rect x="488.3" y="125.3" width="2.5" height="2.5" fill="#000000"/>
<rect x="491.3" y="125.6" width="2.5" height="2.5" fill="#000000"/>
<rect x="494.2" y="126.1" width="2.5" height="2.5" fill="#000000"/>
<rect x="496.5" y="128.0" width="2.5" height="2.5" fill="#000000"/>
<rect x="498.9" y="129.8" width="2.5" height="2.5" fill="#000000"/>
<rect x="501.6" y="131.2" width="2.5" height="2.5" fill="#000000"/>
<rect x="504.2" y="132.7" width="2.5" height="2.5" fill="#000000"/>
<rect x="506.5" y="134.5" width="2.5" height="2.5" fill="#000000"/>
<rect x="508.9" y="136.4" width="2.5" height="2.5" fill="#000000"/>
<rect x="511.5" y="137.9" width="2.5" height="2.5" fill="#000000"/>
<rect x="514.3" y="139.0" width="2.5" height="2.5" fill="#000000"/>
<rect x="517.1" y="139.8" width="2.5" height="2.5" fill="#000000"/>
<rect x="520.0" y="140.6" width="2.5" height="2.5" fill="#000000"/>
<rect x="523.0" y="141.2" width="2.5" height="2.5" fill="#000000"/>
<rect x="525.9" y="141.6" width="2.5" height="2.5" fill="#000000"/>
<rect x="528.9" y="141.8" width="2.5" height="2.5" fill="#000000"/>
<rect x="531.9" y="141.9" width="2.5" height="2.5" fill="#000000"/>
<rect x="533.1" y="142.0" width="2.5" height="2.5" fill="#000000"/>
<polyline points="414.3,140.0 417.6,80.0 420.1,58.0 423.1,41.0 424.4,54.0 426.0,66.0 427.7,75.5 431.4,83.0 434.0,79.0 436.5,74.2 438.5,70.0 440.3,67.2 443.3,75.5 445.5,84.0 448.0,90.0 451.5,101.0 454.5,109.0 457.0,113.5 460.0,116.0 464.8,119.0 469.8,122.3 474.6,125.4 479.6,128.2 484.5,129.6 489.4,128.2 495.2,128.8 499.1,132.1 502.5,134.0 506.0,136.0 510.9,140.0 514.5,141.6 518.7,142.9 522.5,143.8 526.5,144.5 530.5,144.8 534.4,144.9" fill="none" stroke="#1a1ae6" stroke-width="0.7" stroke-linejoin="round"/>
<circle cx="414.3" cy="140.0" r="1.25" fill="#1a1ae6"/>
<circle cx="417.6" cy="80.0" r="1.25" fill="#1a1ae6"/>
<circle cx="420.1" cy="58.0" r="1.25" fill="#1a1ae6"/>
<circle cx="423.1" cy="41.0" r="1.25" fill="#1a1ae6"/>
<circle cx="424.4" cy="54.0" r="1.25" fill="#1a1ae6"/>
<circle cx="426.0" cy="66.0" r="1.25" fill="#1a1ae6"/>
<circle cx="427.7" cy="75.5" r="1.25" fill="#1a1ae6"/>
<circle cx="431.4" cy="83.0" r="1.25" fill="#1a1ae6"/>
<circle cx="434.0" cy="79.0" r="1.25" fill="#1a1ae6"/>
<circle cx="436.5" cy="74.2" r="1.25" fill="#1a1ae6"/>
<circle cx="438.5" cy="70.0" r="1.25" fill="#1a1ae6"/>
<circle cx="440.3" cy="67.2" r="1.25" fill="#1a1ae6"/>
<circle cx="443.3" cy="75.5" r="1.25" fill="#1a1ae6"/>
<circle cx="445.5" cy="84.0" r="1.25" fill="#1a1ae6"/>
<circle cx="448.0" cy="90.0" r="1.25" fill="#1a1ae6"/>
<circle cx="448.9" cy="92.9" r="1.25" fill="#1a1ae6"/>
<circle cx="449.8" cy="95.7" r="1.25" fill="#1a1ae6"/>
<circle cx="450.7" cy="98.6" r="1.25" fill="#1a1ae6"/>
<circle cx="451.7" cy="101.4" r="1.25" fill="#1a1ae6"/>
<circle cx="452.7" cy="104.2" r="1.25" fill="#1a1ae6"/>
<circle cx="453.8" cy="107.0" r="1.25" fill="#1a1ae6"/>
<circle cx="454.9" cy="109.8" r="1.25" fill="#1a1ae6"/>
<circle cx="456.4" cy="112.4" r="1.25" fill="#1a1ae6"/>
<circle cx="458.4" cy="114.6" r="1.25" fill="#1a1ae6"/>
<circle cx="460.7" cy="116.5" r="1.25" fill="#1a1ae6"/>
<circle cx="463.3" cy="118.0" r="1.25" fill="#1a1ae6"/>
<circle cx="465.8" cy="119.7" r="1.25" fill="#1a1ae6"/>
<circle cx="468.3" cy="121.3" r="1.25" fill="#1a1ae6"/>
<circle cx="470.8" cy="123.0" r="1.25" fill="#1a1ae6"/>
<circle cx="473.3" cy="124.6" r="1.25" fill="#1a1ae6"/>
<circle cx="475.9" cy="126.1" r="1.25" fill="#1a1ae6"/>
<circle cx="478.5" cy="127.6" r="1.25" fill="#1a1ae6"/>
<circle cx="481.3" cy="128.7" r="1.25" fill="#1a1ae6"/>
<circle cx="484.2" cy="129.5" r="1.25" fill="#1a1ae6"/>
<circle cx="487.1" cy="128.9" r="1.25" fill="#1a1ae6"/>
<circle cx="490.0" cy="128.3" r="1.25" fill="#1a1ae6"/>
<circle cx="493.0" cy="128.6" r="1.25" fill="#1a1ae6"/>
<circle cx="495.8" cy="129.3" r="1.25" fill="#1a1ae6"/>
<circle cx="498.1" cy="131.2" r="1.25" fill="#1a1ae6"/>
<circle cx="500.5" cy="132.9" r="1.25" fill="#1a1ae6"/>
<circle cx="503.1" cy="134.4" r="1.25" fill="#1a1ae6"/>
<circle cx="505.7" cy="135.9" r="1.25" fill="#1a1ae6"/>
<circle cx="508.1" cy="137.7" r="1.25" fill="#1a1ae6"/>
<circle cx="510.4" cy="139.6" r="1.25" fill="#1a1ae6"/>
<circle cx="513.1" cy="141.0" r="1.25" fill="#1a1ae6"/>
<circle cx="515.9" cy="142.0" r="1.25" fill="#1a1ae6"/>
<circle cx="518.7" cy="142.9" r="1.25" fill="#1a1ae6"/>
<circle cx="521.7" cy="143.6" r="1.25" fill="#1a1ae6"/>
<circle cx="524.6" cy="144.2" r="1.25" fill="#1a1ae6"/>
<circle cx="527.6" cy="144.6" r="1.25" fill="#1a1ae6"/>
<circle cx="530.6" cy="144.8" r="1.25" fill="#1a1ae6"/>
<circle cx="533.6" cy="144.9" r="1.25" fill="#1a1ae6"/>
<circle cx="534.4" cy="144.9" r="1.25" fill="#1a1ae6"/>
<polyline points="414.3,140.0 417.6,75.0 420.1,52.8 421.4,38.2 423.1,42.8 425.0,58.0 427.5,70.0 430.2,76.7 432.7,69.7 436.5,67.4 440.3,68.4 442.3,75.5 445.3,86.8 449.0,88.9 452.8,101.5 456.6,110.3 460.0,113.5 464.8,117.0 469.8,120.3 474.6,123.4 479.6,126.2 484.5,127.6 489.4,126.2 495.2,126.8 499.1,130.1 502.5,132.0 506.0,134.0 510.9,138.0 514.5,139.6 518.7,140.9 522.5,141.8 526.5,142.5 530.5,142.8 534.4,142.9" fill="none" stroke="#2f6b1e" stroke-width="0.7" stroke-linejoin="round"/>
<rect x="413.1" y="138.8" width="2.5" height="2.5" fill="#2f6b1e"/>
<rect x="416.4" y="73.8" width="2.5" height="2.5" fill="#2f6b1e"/>
<rect x="418.9" y="51.5" width="2.5" height="2.5" fill="#2f6b1e"/>
<rect x="420.1" y="37.0" width="2.5" height="2.5" fill="#2f6b1e"/>
<rect x="421.9" y="41.5" width="2.5" height="2.5" fill="#2f6b1e"/>
<rect x="423.8" y="56.8" width="2.5" height="2.5" fill="#2f6b1e"/>
<rect x="426.2" y="68.8" width="2.5" height="2.5" fill="#2f6b1e"/>
<rect x="428.9" y="75.5" width="2.5" height="2.5" fill="#2f6b1e"/>
<rect x="431.4" y="68.5" width="2.5" height="2.5" fill="#2f6b1e"/>
<rect x="435.2" y="66.2" width="2.5" height="2.5" fill="#2f6b1e"/>
<rect x="439.1" y="67.2" width="2.5" height="2.5" fill="#2f6b1e"/>
<rect x="441.1" y="74.2" width="2.5" height="2.5" fill="#2f6b1e"/>
<rect x="444.1" y="85.5" width="2.5" height="2.5" fill="#2f6b1e"/>
<rect x="447.8" y="87.7" width="2.5" height="2.5" fill="#2f6b1e"/>
<rect x="448.6" y="90.5" width="2.5" height="2.5" fill="#2f6b1e"/>
<rect x="449.5" y="93.4" width="2.5" height="2.5" fill="#2f6b1e"/>
<rect x="450.3" y="96.3" width="2.5" height="2.5" fill="#2f6b1e"/>
<rect x="451.2" y="99.1" width="2.5" height="2.5" fill="#2f6b1e"/>
<rect x="452.3" y="101.9" width="2.5" height="2.5" fill="#2f6b1e"/>
<rect x="453.5" y="104.7" width="2.5" height="2.5" fill="#2f6b1e"/>
<rect x="454.7" y="107.4" width="2.5" height="2.5" fill="#2f6b1e"/>
<rect x="456.3" y="109.9" width="2.5" height="2.5" fill="#2f6b1e"/>
<rect x="458.4" y="112.0" width="2.5" height="2.5" fill="#2f6b1e"/>
<rect x="460.8" y="113.8" width="2.5" height="2.5" fill="#2f6b1e"/>
<rect x="463.3" y="115.5" width="2.5" height="2.5" fill="#2f6b1e"/>
<rect x="465.8" y="117.2" width="2.5" height="2.5" fill="#2f6b1e"/>
<rect x="468.3" y="118.9" width="2.5" height="2.5" fill="#2f6b1e"/>
<rect x="470.8" y="120.5" width="2.5" height="2.5" fill="#2f6b1e"/>
<rect x="473.3" y="122.1" width="2.5" height="2.5" fill="#2f6b1e"/>
<rect x="475.9" y="123.6" width="2.5" height="2.5" fill="#2f6b1e"/>
<rect x="478.6" y="125.0" width="2.5" height="2.5" fill="#2f6b1e"/>
<rect x="481.4" y="125.8" width="2.5" height="2.5" fill="#2f6b1e"/>
<rect x="484.3" y="126.0" width="2.5" height="2.5" fill="#2f6b1e"/>
<rect x="487.2" y="125.2" width="2.5" height="2.5" fill="#2f6b1e"/>
<rect x="490.2" y="125.2" width="2.5" height="2.5" fill="#2f6b1e"/>
<rect x="493.1" y="125.5" width="2.5" height="2.5" fill="#2f6b1e"/>
<rect x="495.6" y="127.0" width="2.5" height="2.5" fill="#2f6b1e"/>
<rect x="497.9" y="128.9" width="2.5" height="2.5" fill="#2f6b1e"/>
<rect x="500.5" y="130.4" width="2.5" height="2.5" fill="#2f6b1e"/>
<rect x="503.1" y="131.8" width="2.5" height="2.5" fill="#2f6b1e"/>
<rect x="505.6" y="133.5" width="2.5" height="2.5" fill="#2f6b1e"/>
<rect x="508.0" y="135.4" width="2.5" height="2.5" fill="#2f6b1e"/>
<rect x="510.4" y="137.1" width="2.5" height="2.5" fill="#2f6b1e"/>
<rect x="513.1" y="138.3" width="2.5" height="2.5" fill="#2f6b1e"/>
<rect x="516.0" y="139.2" width="2.5" height="2.5" fill="#2f6b1e"/>
<rect x="518.9" y="140.0" width="2.5" height="2.5" fill="#2f6b1e"/>
<rect x="521.8" y="140.7" width="2.5" height="2.5" fill="#2f6b1e"/>
<rect x="524.8" y="141.2" width="2.5" height="2.5" fill="#2f6b1e"/>
<rect x="527.8" y="141.4" width="2.5" height="2.5" fill="#2f6b1e"/>
<rect x="530.8" y="141.6" width="2.5" height="2.5" fill="#2f6b1e"/>
<rect x="533.1" y="141.7" width="2.5" height="2.5" fill="#2f6b1e"/>
<polyline points="414.3,140.0 417.6,96.0 419.5,70.0 422.6,56.6 425.0,64.0 427.5,73.0 429.5,78.0 431.4,81.8 434.0,88.0 437.7,99.5 442.8,106.0 447.8,112.0 452.8,118.3 456.5,121.8 460.4,124.6 465.0,127.0 469.8,128.7 474.6,130.4 479.6,131.6 484.5,131.9 489.4,131.6 495.2,133.6 498.0,135.5 501.1,137.5 504.0,139.5 507.0,141.4 512.5,142.4 518.7,143.0 526.0,143.5 534.4,143.7" fill="none" stroke="#c9a227" stroke-width="0.7" stroke-linejoin="round"/>
<rect x="413.1" y="138.8" width="2.5" height="2.5" fill="#c9a227"/>
<rect x="416.4" y="94.8" width="2.5" height="2.5" fill="#c9a227"/>
<rect x="418.2" y="68.8" width="2.5" height="2.5" fill="#c9a227"/>
<rect x="421.4" y="55.4" width="2.5" height="2.5" fill="#c9a227"/>
<rect x="423.8" y="62.8" width="2.5" height="2.5" fill="#c9a227"/>
<rect x="426.2" y="71.8" width="2.5" height="2.5" fill="#c9a227"/>
<rect x="428.2" y="76.8" width="2.5" height="2.5" fill="#c9a227"/>
<rect x="430.1" y="80.5" width="2.5" height="2.5" fill="#c9a227"/>
<rect x="432.8" y="86.8" width="2.5" height="2.5" fill="#c9a227"/>
<rect x="433.7" y="89.6" width="2.5" height="2.5" fill="#c9a227"/>
<rect x="434.6" y="92.5" width="2.5" height="2.5" fill="#c9a227"/>
<rect x="435.5" y="95.3" width="2.5" height="2.5" fill="#c9a227"/>
<rect x="436.4" y="98.2" width="2.5" height="2.5" fill="#c9a227"/>
<rect x="438.3" y="100.5" width="2.5" height="2.5" fill="#c9a227"/>
<rect x="440.1" y="102.9" width="2.5" height="2.5" fill="#c9a227"/>
<rect x="442.0" y="105.3" width="2.5" height="2.5" fill="#c9a227"/>
<rect x="443.9" y="107.6" width="2.5" height="2.5" fill="#c9a227"/>
<rect x="445.8" y="109.9" width="2.5" height="2.5" fill="#c9a227"/>
<rect x="447.7" y="112.2" width="2.5" height="2.5" fill="#c9a227"/>
<rect x="449.6" y="114.5" width="2.5" height="2.5" fill="#c9a227"/>
<rect x="451.4" y="116.9" width="2.5" height="2.5" fill="#c9a227"/>
<rect x="453.6" y="119.0" width="2.5" height="2.5" fill="#c9a227"/>
<rect x="455.8" y="121.0" width="2.5" height="2.5" fill="#c9a227"/>
<rect x="458.3" y="122.7" width="2.5" height="2.5" fill="#c9a227"/>
<rect x="460.8" y="124.2" width="2.5" height="2.5" fill="#c9a227"/>
<rect x="463.5" y="125.6" width="2.5" height="2.5" fill="#c9a227"/>
<rect x="466.3" y="126.7" width="2.5" height="2.5" fill="#c9a227"/>
<rect x="469.1" y="127.7" width="2.5" height="2.5" fill="#c9a227"/>
<rect x="472.0" y="128.7" width="2.5" height="2.5" fill="#c9a227"/>
<rect x="474.8" y="129.5" width="2.5" height="2.5" fill="#c9a227"/>
<rect x="477.8" y="130.2" width="2.5" height="2.5" fill="#c9a227"/>
<rect x="480.7" y="130.5" width="2.5" height="2.5" fill="#c9a227"/>
<rect x="483.7" y="130.6" width="2.5" height="2.5" fill="#c9a227"/>
<rect x="486.7" y="130.4" width="2.5" height="2.5" fill="#c9a227"/>
<rect x="489.6" y="130.9" width="2.5" height="2.5" fill="#c9a227"/>
<rect x="492.5" y="131.8" width="2.5" height="2.5" fill="#c9a227"/>
<rect x="495.1" y="133.2" width="2.5" height="2.5" fill="#c9a227"/>
<rect x="497.6" y="134.8" width="2.5" height="2.5" fill="#c9a227"/>
<rect x="500.2" y="136.5" width="2.5" height="2.5" fill="#c9a227"/>
<rect x="502.6" y="138.2" width="2.5" height="2.5" fill="#c9a227"/>
<rect x="505.2" y="139.8" width="2.5" height="2.5" fill="#c9a227"/>
<rect x="508.0" y="140.6" width="2.5" height="2.5" fill="#c9a227"/>
<rect x="511.0" y="141.1" width="2.5" height="2.5" fill="#c9a227"/>
<rect x="513.9" y="141.4" width="2.5" height="2.5" fill="#c9a227"/>
<rect x="516.9" y="141.7" width="2.5" height="2.5" fill="#c9a227"/>
<rect x="519.9" y="141.9" width="2.5" height="2.5" fill="#c9a227"/>
<rect x="522.9" y="142.1" width="2.5" height="2.5" fill="#c9a227"/>
<rect x="525.9" y="142.3" width="2.5" height="2.5" fill="#c9a227"/>
<rect x="528.9" y="142.3" width="2.5" height="2.5" fill="#c9a227"/>
<rect x="531.9" y="142.4" width="2.5" height="2.5" fill="#c9a227"/>
<rect x="533.1" y="142.4" width="2.5" height="2.5" fill="#c9a227"/>
<polyline points="414.3,140.0 417.6,94.0 419.5,72.0 422.2,62.0 425.2,55.8 427.7,70.4 430.2,74.2 432.0,80.0 434.0,88.9 437.7,99.0 442.8,105.3 447.8,111.5 452.8,117.8 456.5,121.2 460.4,124.1 465.0,126.5 469.8,128.2 474.6,129.9 479.6,131.1 484.5,131.4 489.4,131.1 495.2,133.1 498.0,135.0 501.1,137.0 504.0,139.0 507.0,140.9 512.5,141.9 518.7,142.5 526.0,143.0 534.4,143.2" fill="none" stroke="#b5481a" stroke-width="0.7" stroke-linejoin="round"/>
<circle cx="414.3" cy="140.0" r="1.25" fill="#b5481a"/>
<circle cx="417.6" cy="94.0" r="1.25" fill="#b5481a"/>
<circle cx="419.5" cy="72.0" r="1.25" fill="#b5481a"/>
<circle cx="422.2" cy="62.0" r="1.25" fill="#b5481a"/>
<circle cx="425.2" cy="55.8" r="1.25" fill="#b5481a"/>
<circle cx="427.7" cy="70.4" r="1.25" fill="#b5481a"/>
<circle cx="430.2" cy="74.2" r="1.25" fill="#b5481a"/>
<circle cx="432.0" cy="80.0" r="1.25" fill="#b5481a"/>
<circle cx="434.0" cy="88.9" r="1.25" fill="#b5481a"/>
<circle cx="435.0" cy="91.7" r="1.25" fill="#b5481a"/>
<circle cx="436.1" cy="94.5" r="1.25" fill="#b5481a"/>
<circle cx="437.1" cy="97.4" r="1.25" fill="#b5481a"/>
<circle cx="438.5" cy="100.0" r="1.25" fill="#b5481a"/>
<circle cx="440.4" cy="102.3" r="1.25" fill="#b5481a"/>
<circle cx="442.3" cy="104.6" r="1.25" fill="#b5481a"/>
<circle cx="444.1" cy="107.0" r="1.25" fill="#b5481a"/>
<circle cx="446.0" cy="109.3" r="1.25" fill="#b5481a"/>
<circle cx="447.9" cy="111.6" r="1.25" fill="#b5481a"/>
<circle cx="449.8" cy="114.0" r="1.25" fill="#b5481a"/>
<circle cx="451.6" cy="116.3" r="1.25" fill="#b5481a"/>
<circle cx="453.6" cy="118.6" r="1.25" fill="#b5481a"/>
<circle cx="455.8" cy="120.6" r="1.25" fill="#b5481a"/>
<circle cx="458.2" cy="122.5" r="1.25" fill="#b5481a"/>
<circle cx="460.6" cy="124.2" r="1.25" fill="#b5481a"/>
<circle cx="463.3" cy="125.6" r="1.25" fill="#b5481a"/>
<circle cx="466.0" cy="126.9" r="1.25" fill="#b5481a"/>
<circle cx="468.8" cy="127.9" r="1.25" fill="#b5481a"/>
<circle cx="471.7" cy="128.9" r="1.25" fill="#b5481a"/>
<circle cx="474.5" cy="129.9" r="1.25" fill="#b5481a"/>
<circle cx="477.4" cy="130.6" r="1.25" fill="#b5481a"/>
<circle cx="480.3" cy="131.1" r="1.25" fill="#b5481a"/>
<circle cx="483.3" cy="131.3" r="1.25" fill="#b5481a"/>
<circle cx="486.3" cy="131.3" r="1.25" fill="#b5481a"/>
<circle cx="489.3" cy="131.1" r="1.25" fill="#b5481a"/>
<circle cx="492.2" cy="132.0" r="1.25" fill="#b5481a"/>
<circle cx="495.0" cy="133.0" r="1.25" fill="#b5481a"/>
<circle cx="497.5" cy="134.7" r="1.25" fill="#b5481a"/>
<circle cx="500.0" cy="136.3" r="1.25" fill="#b5481a"/>
<circle cx="502.5" cy="138.0" r="1.25" fill="#b5481a"/>
<circle cx="505.0" cy="139.6" r="1.25" fill="#b5481a"/>
<circle cx="507.6" cy="141.0" r="1.25" fill="#b5481a"/>
<circle cx="510.6" cy="141.5" r="1.25" fill="#b5481a"/>
<circle cx="513.5" cy="142.0" r="1.25" fill="#b5481a"/>
<circle cx="516.5" cy="142.3" r="1.25" fill="#b5481a"/>
<circle cx="519.5" cy="142.6" r="1.25" fill="#b5481a"/>
<circle cx="522.5" cy="142.8" r="1.25" fill="#b5481a"/>
<circle cx="525.5" cy="143.0" r="1.25" fill="#b5481a"/>
<circle cx="528.5" cy="143.1" r="1.25" fill="#b5481a"/>
<circle cx="531.5" cy="143.1" r="1.25" fill="#b5481a"/>
<circle cx="534.4" cy="143.2" r="1.25" fill="#b5481a"/>
<text x="482.1" y="12.7" font-size="8.4" fill="#111" textLength="53.8" lengthAdjust="spacingAndGlyphs">UiO-66-NH<tspan font-size="5.6" dy="1.2">2</tspan><tspan dy="-1.2">-</tspan><tspan font-weight="bold">X</tspan></text>
<line x1="512.3" y1="20" x2="529.9" y2="20" stroke="#000000" stroke-width="0.7"/>
<circle cx="521.0999999999999" cy="20" r="1.4" fill="#000000"/>
<text x="533.0" y="22.8" font-size="7.8" text-anchor="start" font-weight="normal" fill="#000" >0</text>
<line x1="512.3" y1="29.9" x2="529.9" y2="29.9" stroke="#2a2aff" stroke-width="0.7"/>
<circle cx="521.0999999999999" cy="29.9" r="1.4" fill="#1a1ae6"/>
<text x="533.0" y="32.7" font-size="7.8" text-anchor="start" font-weight="normal" fill="#000" >25</text>
<line x1="512.3" y1="39.7" x2="529.9" y2="39.7" stroke="#3a7a22" stroke-width="0.7"/>
<circle cx="521.0999999999999" cy="39.7" r="1.4" fill="#2f6b1e"/>
<text x="533.0" y="42.5" font-size="7.8" text-anchor="start" font-weight="normal" fill="#000" >50</text>
<line x1="512.3" y1="49.5" x2="529.9" y2="49.5" stroke="#d4b030" stroke-width="0.7"/>
<circle cx="521.0999999999999" cy="49.5" r="1.4" fill="#c9a227"/>
<text x="533.0" y="52.3" font-size="7.8" text-anchor="start" font-weight="normal" fill="#000" >75</text>
<line x1="512.3" y1="59.1" x2="529.9" y2="59.1" stroke="#c0501c" stroke-width="0.7"/>
<circle cx="521.0999999999999" cy="59.1" r="1.4" fill="#b5481a"/>
<text x="533.0" y="61.9" font-size="7.8" text-anchor="start" font-weight="normal" fill="#000" >100</text>
<line x1="165" y1="248.5" x2="197" y2="248.5" stroke="#222" stroke-width="0.9"/>
<line x1="158" y1="262" x2="171" y2="281" stroke="#222" stroke-width="0.9"/>
<line x1="203" y1="262" x2="190" y2="281" stroke="#222" stroke-width="0.9"/>
<polygon points="143.9,231.2 154.5,231.2 157.3,237.0 160.9,239.2 167.1,248.1 160.9,255.8 157.3,258.2 154.5,264.2 143.5,264.0 141.3,258.2 137.3,255.4 131.9,247.8 137.7,239.2 141.5,237.0" fill="#1f3ad0"/>
<polygon points="143.9,231.2 154.5,231.2 157.3,237.0 152.0,246.3 147.0,242.3" fill="#2672f4"/>
<polygon points="143.9,231.2 147.0,242.3 143.5,244.8 141.5,237.0" fill="#1c36c8"/>
<polygon points="157.3,237.0 160.9,239.2 167.1,248.1 160.9,255.8 155.5,251.8 152.0,246.3" fill="#2356ea"/>
<polygon points="167.1,248.1 160.9,255.8 157.3,258.2 155.5,251.8" fill="#1a2cb8"/>
<polygon points="137.7,239.2 141.5,237.0 143.5,244.8 146.5,249.8 137.3,255.4 131.9,247.8" fill="#1a28b4"/>
<polygon points="137.7,239.2 131.9,247.8 139.5,245.8" fill="#2244d8"/>
<polygon points="137.3,255.4 141.3,258.2 143.5,264.0 154.5,264.2 151.0,253.3 146.5,249.8" fill="#2459ec"/>
<polygon points="154.5,264.2 157.3,258.2 155.5,251.8 151.0,253.3" fill="#1a2cb8"/>
<polygon points="143.5,244.8 147.0,242.3 152.0,246.3 155.5,251.8 151.0,253.3 146.5,249.8" fill="#1b30c2"/>
<polygon points="147.0,242.3 152.0,246.3 149.0,249.3 145.0,246.3" fill="#2b62f0"/>
<circle cx="144.1" cy="231.7" r="0.95" fill="#55683c"/>
<circle cx="154.3" cy="231.7" r="0.95" fill="#55683c"/>
<circle cx="160.6" cy="239.5" r="0.95" fill="#55683c"/>
<circle cx="166.6" cy="248.1" r="0.95" fill="#55683c"/>
<circle cx="160.6" cy="255.6" r="0.95" fill="#55683c"/>
<circle cx="154.3" cy="263.7" r="0.95" fill="#55683c"/>
<circle cx="143.7" cy="263.5" r="0.95" fill="#55683c"/>
<circle cx="137.7" cy="255.2" r="0.95" fill="#55683c"/>
<circle cx="132.4" cy="247.8" r="0.95" fill="#55683c"/>
<circle cx="138.1" cy="239.5" r="0.95" fill="#55683c"/>
<circle cx="146.0" cy="246.3" r="0.9" fill="#2f6a78"/>
<circle cx="154.0" cy="249.3" r="0.9" fill="#2f6a78"/>
<polygon points="207.2,231.6 217.8,231.6 220.6,237.4 224.2,239.6 230.4,248.5 224.2,256.2 220.6,258.6 217.8,264.6 206.8,264.4 204.6,258.6 200.6,255.8 195.2,248.2 201.0,239.6 204.8,237.4" fill="#1f3ad0"/>
<polygon points="207.2,231.6 217.8,231.6 220.6,237.4 215.3,246.7 210.3,242.7" fill="#2672f4"/>
<polygon points="207.2,231.6 210.3,242.7 206.8,245.2 204.8,237.4" fill="#1c36c8"/>
<polygon points="220.6,237.4 224.2,239.6 230.4,248.5 224.2,256.2 218.8,252.2 215.3,246.7" fill="#2356ea"/>
<polygon points="230.4,248.5 224.2,256.2 220.6,258.6 218.8,252.2" fill="#1a2cb8"/>
<polygon points="201.0,239.6 204.8,237.4 206.8,245.2 209.8,250.2 200.6,255.8 195.2,248.2" fill="#1a28b4"/>
<polygon points="201.0,239.6 195.2,248.2 202.8,246.2" fill="#2244d8"/>
<polygon points="200.6,255.8 204.6,258.6 206.8,264.4 217.8,264.6 214.3,253.7 209.8,250.2" fill="#2459ec"/>
<polygon points="217.8,264.6 220.6,258.6 218.8,252.2 214.3,253.7" fill="#1a2cb8"/>
<polygon points="206.8,245.2 210.3,242.7 215.3,246.7 218.8,252.2 214.3,253.7 209.8,250.2" fill="#1b30c2"/>
<polygon points="210.3,242.7 215.3,246.7 212.3,249.7 208.3,246.7" fill="#2b62f0"/>
<circle cx="207.4" cy="232.1" r="0.95" fill="#55683c"/>
<circle cx="217.7" cy="232.1" r="0.95" fill="#55683c"/>
<circle cx="223.9" cy="239.9" r="0.95" fill="#55683c"/>
<circle cx="229.9" cy="248.5" r="0.95" fill="#55683c"/>
<circle cx="223.9" cy="256.0" r="0.95" fill="#55683c"/>
<circle cx="217.7" cy="264.1" r="0.95" fill="#55683c"/>
<circle cx="207.0" cy="263.9" r="0.95" fill="#55683c"/>
<circle cx="201.0" cy="255.6" r="0.95" fill="#55683c"/>
<circle cx="195.7" cy="248.2" r="0.95" fill="#55683c"/>
<circle cx="201.4" cy="239.9" r="0.95" fill="#55683c"/>
<circle cx="209.3" cy="246.7" r="0.9" fill="#2f6a78"/>
<circle cx="217.3" cy="249.7" r="0.9" fill="#2f6a78"/>
<polygon points="174.2,276.0 184.8,276.0 187.6,281.8 191.2,284.0 197.4,292.9 191.2,300.6 187.6,303.0 184.8,309.0 173.8,308.8 171.6,303.0 167.6,300.2 162.2,292.6 168.0,284.0 171.8,281.8" fill="#1f3ad0"/>
<polygon points="174.2,276.0 184.8,276.0 187.6,281.8 182.3,291.1 177.3,287.1" fill="#2672f4"/>
<polygon points="174.2,276.0 177.3,287.1 173.8,289.6 171.8,281.8" fill="#1c36c8"/>
<polygon points="187.6,281.8 191.2,284.0 197.4,292.9 191.2,300.6 185.8,296.6 182.3,291.1" fill="#2356ea"/>
<polygon points="197.4,292.9 191.2,300.6 187.6,303.0 185.8,296.6" fill="#1a2cb8"/>
<polygon points="168.0,284.0 171.8,281.8 173.8,289.6 176.8,294.6 167.6,300.2 162.2,292.6" fill="#1a28b4"/>
<polygon points="168.0,284.0 162.2,292.6 169.8,290.6" fill="#2244d8"/>
<polygon points="167.6,300.2 171.6,303.0 173.8,308.8 184.8,309.0 181.3,298.1 176.8,294.6" fill="#2459ec"/>
<polygon points="184.8,309.0 187.6,303.0 185.8,296.6 181.3,298.1" fill="#1a2cb8"/>
<polygon points="173.8,289.6 177.3,287.1 182.3,291.1 185.8,296.6 181.3,298.1 176.8,294.6" fill="#1b30c2"/>
<polygon points="177.3,287.1 182.3,291.1 179.3,294.1 175.3,291.1" fill="#2b62f0"/>
<circle cx="174.4" cy="276.5" r="0.95" fill="#55683c"/>
<circle cx="184.7" cy="276.5" r="0.95" fill="#55683c"/>
<circle cx="190.9" cy="284.3" r="0.95" fill="#55683c"/>
<circle cx="196.9" cy="292.9" r="0.95" fill="#55683c"/>
<circle cx="190.9" cy="300.4" r="0.95" fill="#55683c"/>
<circle cx="184.7" cy="308.5" r="0.95" fill="#55683c"/>
<circle cx="174.0" cy="308.3" r="0.95" fill="#55683c"/>
<circle cx="168.0" cy="300.0" r="0.95" fill="#55683c"/>
<circle cx="162.7" cy="292.6" r="0.95" fill="#55683c"/>
<circle cx="168.4" cy="284.3" r="0.95" fill="#55683c"/>
<circle cx="176.3" cy="291.1" r="0.9" fill="#2f6a78"/>
<circle cx="184.3" cy="294.1" r="0.9" fill="#2f6a78"/>
<polygon points="188.5,248.4 184.8,253.9 177.5,253.9 173.9,248.4 177.5,242.9 184.8,242.9" fill="#fff" stroke="#151515" stroke-width="1.15"/>
<circle cx="188.5" cy="248.4" r="1.2" fill="#0c0c0c"/>
<circle cx="184.8" cy="253.9" r="1.2" fill="#0c0c0c"/>
<circle cx="177.5" cy="253.9" r="1.2" fill="#0c0c0c"/>
<circle cx="173.9" cy="248.4" r="1.2" fill="#0c0c0c"/>
<circle cx="177.5" cy="242.9" r="1.2" fill="#0c0c0c"/>
<circle cx="184.8" cy="242.9" r="1.2" fill="#0c0c0c"/>
<line x1="177.6" y1="242.8" x2="175.6" y2="239.3" stroke="#333" stroke-width="0.7"/>
<circle cx="175.4" cy="239.1" r="0.8" fill="#333"/>
<line x1="184.8" y1="242.8" x2="186.8" y2="239.3" stroke="#333" stroke-width="0.7"/>
<circle cx="187.0" cy="239.1" r="0.8" fill="#333"/>
<polygon points="170.2,272.2 165.8,276.6 159.8,275.0 158.2,269.0 162.6,264.6 168.6,266.2" fill="#fff" stroke="#151515" stroke-width="1.15"/>
<circle cx="170.2" cy="272.2" r="1.2" fill="#0c0c0c"/>
<circle cx="165.8" cy="276.6" r="1.2" fill="#0c0c0c"/>
<circle cx="159.8" cy="275.0" r="1.2" fill="#0c0c0c"/>
<circle cx="158.2" cy="269.0" r="1.2" fill="#0c0c0c"/>
<circle cx="162.6" cy="264.6" r="1.2" fill="#0c0c0c"/>
<circle cx="168.6" cy="266.2" r="1.2" fill="#0c0c0c"/>
<polygon points="202.2,269.0 200.6,275.0 194.6,276.6 190.2,272.2 191.8,266.2 197.8,264.6" fill="#fff" stroke="#151515" stroke-width="1.15"/>
<circle cx="202.2" cy="269.0" r="1.2" fill="#0c0c0c"/>
<circle cx="200.6" cy="275.0" r="1.2" fill="#0c0c0c"/>
<circle cx="194.6" cy="276.6" r="1.2" fill="#0c0c0c"/>
<circle cx="190.2" cy="272.2" r="1.2" fill="#0c0c0c"/>
<circle cx="191.8" cy="266.2" r="1.2" fill="#0c0c0c"/>
<circle cx="197.8" cy="264.6" r="1.2" fill="#0c0c0c"/>
<line x1="158.9" y1="271" x2="156.2" y2="272.5" stroke="#333" stroke-width="0.7"/>
<circle cx="156.0" cy="272.6" r="0.7" fill="#333"/>
<line x1="162.7" y1="274.9" x2="161.7" y2="278" stroke="#333" stroke-width="0.7"/>
<line x1="201.5" y1="271" x2="204.2" y2="272.5" stroke="#333" stroke-width="0.7"/>
<circle cx="204.4" cy="272.6" r="0.7" fill="#333"/>
<line x1="197.7" y1="274.9" x2="198.7" y2="278" stroke="#333" stroke-width="0.7"/>
<circle cx="180.3" cy="266.2" r="6.5" fill="#a83514"/>
<rect x="176.3" y="263.8" width="8" height="7.2" fill="#ff0d0d"/>
<line x1="262" y1="262" x2="279" y2="282" stroke="#222" stroke-width="0.9"/>
<line x1="310" y1="262" x2="293" y2="282" stroke="#222" stroke-width="0.9"/>
<polygon points="249.7,232.6 260.3,232.6 263.1,238.4 266.7,240.6 272.9,249.5 266.7,257.2 263.1,259.6 260.3,265.6 249.3,265.4 247.1,259.6 243.1,256.8 237.7,249.2 243.5,240.6 247.3,238.4" fill="#1f3ad0"/>
<polygon points="249.7,232.6 260.3,232.6 263.1,238.4 257.8,247.7 252.8,243.7" fill="#2672f4"/>
<polygon points="249.7,232.6 252.8,243.7 249.3,246.2 247.3,238.4" fill="#1c36c8"/>
<polygon points="263.1,238.4 266.7,240.6 272.9,249.5 266.7,257.2 261.3,253.2 257.8,247.7" fill="#2356ea"/>
<polygon points="272.9,249.5 266.7,257.2 263.1,259.6 261.3,253.2" fill="#1a2cb8"/>
<polygon points="243.5,240.6 247.3,238.4 249.3,246.2 252.3,251.2 243.1,256.8 237.7,249.2" fill="#1a28b4"/>
<polygon points="243.5,240.6 237.7,249.2 245.3,247.2" fill="#2244d8"/>
<polygon points="243.1,256.8 247.1,259.6 249.3,265.4 260.3,265.6 256.8,254.7 252.3,251.2" fill="#2459ec"/>
<polygon points="260.3,265.6 263.1,259.6 261.3,253.2 256.8,254.7" fill="#1a2cb8"/>
<polygon points="249.3,246.2 252.8,243.7 257.8,247.7 261.3,253.2 256.8,254.7 252.3,251.2" fill="#1b30c2"/>
<polygon points="252.8,243.7 257.8,247.7 254.8,250.7 250.8,247.7" fill="#2b62f0"/>
<circle cx="249.9" cy="233.1" r="0.95" fill="#55683c"/>
<circle cx="260.2" cy="233.1" r="0.95" fill="#55683c"/>
<circle cx="266.4" cy="240.9" r="0.95" fill="#55683c"/>
<circle cx="272.4" cy="249.5" r="0.95" fill="#55683c"/>
<circle cx="266.4" cy="257.0" r="0.95" fill="#55683c"/>
<circle cx="260.2" cy="265.1" r="0.95" fill="#55683c"/>
<circle cx="249.5" cy="264.9" r="0.95" fill="#55683c"/>
<circle cx="243.5" cy="256.6" r="0.95" fill="#55683c"/>
<circle cx="238.2" cy="249.2" r="0.95" fill="#55683c"/>
<circle cx="243.9" cy="240.9" r="0.95" fill="#55683c"/>
<circle cx="251.8" cy="247.7" r="0.9" fill="#2f6a78"/>
<circle cx="259.8" cy="250.7" r="0.9" fill="#2f6a78"/>
<polygon points="312.2,232.6 322.8,232.6 325.6,238.4 329.2,240.6 335.4,249.5 329.2,257.2 325.6,259.6 322.8,265.6 311.8,265.4 309.6,259.6 305.6,256.8 300.2,249.2 306.0,240.6 309.8,238.4" fill="#1f3ad0"/>
<polygon points="312.2,232.6 322.8,232.6 325.6,238.4 320.3,247.7 315.3,243.7" fill="#2672f4"/>
<polygon points="312.2,232.6 315.3,243.7 311.8,246.2 309.8,238.4" fill="#1c36c8"/>
<polygon points="325.6,238.4 329.2,240.6 335.4,249.5 329.2,257.2 323.8,253.2 320.3,247.7" fill="#2356ea"/>
<polygon points="335.4,249.5 329.2,257.2 325.6,259.6 323.8,253.2" fill="#1a2cb8"/>
<polygon points="306.0,240.6 309.8,238.4 311.8,246.2 314.8,251.2 305.6,256.8 300.2,249.2" fill="#1a28b4"/>
<polygon points="306.0,240.6 300.2,249.2 307.8,247.2" fill="#2244d8"/>
<polygon points="305.6,256.8 309.6,259.6 311.8,265.4 322.8,265.6 319.3,254.7 314.8,251.2" fill="#2459ec"/>
<polygon points="322.8,265.6 325.6,259.6 323.8,253.2 319.3,254.7" fill="#1a2cb8"/>
<polygon points="311.8,246.2 315.3,243.7 320.3,247.7 323.8,253.2 319.3,254.7 314.8,251.2" fill="#1b30c2"/>
<polygon points="315.3,243.7 320.3,247.7 317.3,250.7 313.3,247.7" fill="#2b62f0"/>
<circle cx="312.4" cy="233.1" r="0.95" fill="#55683c"/>
<circle cx="322.7" cy="233.1" r="0.95" fill="#55683c"/>
<circle cx="328.9" cy="240.9" r="0.95" fill="#55683c"/>
<circle cx="334.9" cy="249.5" r="0.95" fill="#55683c"/>
<circle cx="328.9" cy="257.0" r="0.95" fill="#55683c"/>
<circle cx="322.7" cy="265.1" r="0.95" fill="#55683c"/>
<circle cx="312.0" cy="264.9" r="0.95" fill="#55683c"/>
<circle cx="306.0" cy="256.6" r="0.95" fill="#55683c"/>
<circle cx="300.7" cy="249.2" r="0.95" fill="#55683c"/>
<circle cx="306.4" cy="240.9" r="0.95" fill="#55683c"/>
<circle cx="314.3" cy="247.7" r="0.9" fill="#2f6a78"/>
<circle cx="322.3" cy="250.7" r="0.9" fill="#2f6a78"/>
<polygon points="280.4,276.6 291.0,276.6 293.8,282.4 297.4,284.6 303.6,293.5 297.4,301.2 293.8,303.6 291.0,309.6 280.0,309.4 277.8,303.6 273.8,300.8 268.4,293.2 274.2,284.6 278.0,282.4" fill="#1f3ad0"/>
<polygon points="280.4,276.6 291.0,276.6 293.8,282.4 288.5,291.7 283.5,287.7" fill="#2672f4"/>
<polygon points="280.4,276.6 283.5,287.7 280.0,290.2 278.0,282.4" fill="#1c36c8"/>
<polygon points="293.8,282.4 297.4,284.6 303.6,293.5 297.4,301.2 292.0,297.2 288.5,291.7" fill="#2356ea"/>
<polygon points="303.6,293.5 297.4,301.2 293.8,303.6 292.0,297.2" fill="#1a2cb8"/>
<polygon points="274.2,284.6 278.0,282.4 280.0,290.2 283.0,295.2 273.8,300.8 268.4,293.2" fill="#1a28b4"/>
<polygon points="274.2,284.6 268.4,293.2 276.0,291.2" fill="#2244d8"/>
<polygon points="273.8,300.8 277.8,303.6 280.0,309.4 291.0,309.6 287.5,298.7 283.0,295.2" fill="#2459ec"/>
<polygon points="291.0,309.6 293.8,303.6 292.0,297.2 287.5,298.7" fill="#1a2cb8"/>
<polygon points="280.0,290.2 283.5,287.7 288.5,291.7 292.0,297.2 287.5,298.7 283.0,295.2" fill="#1b30c2"/>
<polygon points="283.5,287.7 288.5,291.7 285.5,294.7 281.5,291.7" fill="#2b62f0"/>
<circle cx="280.6" cy="277.1" r="0.95" fill="#55683c"/>
<circle cx="290.9" cy="277.1" r="0.95" fill="#55683c"/>
<circle cx="297.1" cy="284.9" r="0.95" fill="#55683c"/>
<circle cx="303.1" cy="293.5" r="0.95" fill="#55683c"/>
<circle cx="297.1" cy="301.0" r="0.95" fill="#55683c"/>
<circle cx="290.9" cy="309.1" r="0.95" fill="#55683c"/>
<circle cx="280.2" cy="308.9" r="0.95" fill="#55683c"/>
<circle cx="274.2" cy="300.6" r="0.95" fill="#55683c"/>
<circle cx="268.9" cy="293.2" r="0.95" fill="#55683c"/>
<circle cx="274.6" cy="284.9" r="0.95" fill="#55683c"/>
<circle cx="282.5" cy="291.7" r="0.9" fill="#2f6a78"/>
<circle cx="290.5" cy="294.7" r="0.9" fill="#2f6a78"/>
<line x1="271" y1="249.9" x2="301.5" y2="249.9" stroke="#111" stroke-width="0.9"/>
<circle cx="272.0" cy="249.9" r="1.0" fill="#111"/>
<circle cx="276.1" cy="249.9" r="1.0" fill="#111"/>
<circle cx="280.2" cy="249.9" r="1.0" fill="#111"/>
<circle cx="284.3" cy="249.9" r="1.0" fill="#111"/>
<circle cx="288.4" cy="249.9" r="1.0" fill="#111"/>
<circle cx="292.5" cy="249.9" r="1.0" fill="#111"/>
<circle cx="296.6" cy="249.9" r="1.0" fill="#111"/>
<circle cx="300.7" cy="249.9" r="1.0" fill="#111"/>
<polygon points="271.8,269.2 268.1,272.3 263.6,270.7 262.8,266.0 266.5,262.9 271.0,264.5" fill="#fff" stroke="#151515" stroke-width="0.85"/>
<circle cx="271.8" cy="269.2" r="1.05" fill="#0c0c0c"/>
<circle cx="268.1" cy="272.3" r="1.05" fill="#0c0c0c"/>
<circle cx="263.6" cy="270.7" r="1.05" fill="#0c0c0c"/>
<circle cx="262.8" cy="266.0" r="1.05" fill="#0c0c0c"/>
<circle cx="266.5" cy="262.9" r="1.05" fill="#0c0c0c"/>
<circle cx="271.0" cy="264.5" r="1.05" fill="#0c0c0c"/>
<polygon points="278.8,277.2 275.1,280.3 270.6,278.7 269.8,274.0 273.5,270.9 278.0,272.5" fill="#fff" stroke="#151515" stroke-width="0.85"/>
<circle cx="278.8" cy="277.2" r="1.05" fill="#0c0c0c"/>
<circle cx="275.1" cy="280.3" r="1.05" fill="#0c0c0c"/>
<circle cx="270.6" cy="278.7" r="1.05" fill="#0c0c0c"/>
<circle cx="269.8" cy="274.0" r="1.05" fill="#0c0c0c"/>
<circle cx="273.5" cy="270.9" r="1.05" fill="#0c0c0c"/>
<circle cx="278.0" cy="272.5" r="1.05" fill="#0c0c0c"/>
<polygon points="308.9,266.0 308.1,270.7 303.6,272.3 299.9,269.2 300.7,264.5 305.2,262.9" fill="#fff" stroke="#151515" stroke-width="0.85"/>
<circle cx="308.9" cy="266.0" r="1.05" fill="#0c0c0c"/>
<circle cx="308.1" cy="270.7" r="1.05" fill="#0c0c0c"/>
<circle cx="303.6" cy="272.3" r="1.05" fill="#0c0c0c"/>
<circle cx="299.9" cy="269.2" r="1.05" fill="#0c0c0c"/>
<circle cx="300.7" cy="264.5" r="1.05" fill="#0c0c0c"/>
<circle cx="305.2" cy="262.9" r="1.05" fill="#0c0c0c"/>
<polygon points="301.9,274.0 301.1,278.7 296.6,280.3 292.9,277.2 293.7,272.5 298.2,270.9" fill="#fff" stroke="#151515" stroke-width="0.85"/>
<circle cx="301.9" cy="274.0" r="1.05" fill="#0c0c0c"/>
<circle cx="301.1" cy="278.7" r="1.05" fill="#0c0c0c"/>
<circle cx="296.6" cy="280.3" r="1.05" fill="#0c0c0c"/>
<circle cx="292.9" cy="277.2" r="1.05" fill="#0c0c0c"/>
<circle cx="293.7" cy="272.5" r="1.05" fill="#0c0c0c"/>
<circle cx="298.2" cy="270.9" r="1.05" fill="#0c0c0c"/>
<circle cx="285.9" cy="261.6" r="9.9" fill="#22c23a" stroke="#173d1a" stroke-width="0.9" stroke-dasharray="1.8 1.4"/>
<circle cx="286.8" cy="261.8" r="6.5" fill="#2bd944"/>
<polygon points="353.2,232.4 363.8,232.4 366.6,238.2 370.2,240.4 376.4,249.3 370.2,257.0 366.6,259.4 363.8,265.4 352.8,265.2 350.6,259.4 346.6,256.6 341.2,249.0 347.0,240.4 350.8,238.2" fill="#1f3ad0"/>
<polygon points="353.2,232.4 363.8,232.4 366.6,238.2 361.3,247.5 356.3,243.5" fill="#2672f4"/>
<polygon points="353.2,232.4 356.3,243.5 352.8,246.0 350.8,238.2" fill="#1c36c8"/>
<polygon points="366.6,238.2 370.2,240.4 376.4,249.3 370.2,257.0 364.8,253.0 361.3,247.5" fill="#2356ea"/>
<polygon points="376.4,249.3 370.2,257.0 366.6,259.4 364.8,253.0" fill="#1a2cb8"/>
<polygon points="347.0,240.4 350.8,238.2 352.8,246.0 355.8,251.0 346.6,256.6 341.2,249.0" fill="#1a28b4"/>
<polygon points="347.0,240.4 341.2,249.0 348.8,247.0" fill="#2244d8"/>
<polygon points="346.6,256.6 350.6,259.4 352.8,265.2 363.8,265.4 360.3,254.5 355.8,251.0" fill="#2459ec"/>
<polygon points="363.8,265.4 366.6,259.4 364.8,253.0 360.3,254.5" fill="#1a2cb8"/>
<polygon points="352.8,246.0 356.3,243.5 361.3,247.5 364.8,253.0 360.3,254.5 355.8,251.0" fill="#1b30c2"/>
<polygon points="356.3,243.5 361.3,247.5 358.3,250.5 354.3,247.5" fill="#2b62f0"/>
<circle cx="353.4" cy="232.9" r="0.95" fill="#55683c"/>
<circle cx="363.7" cy="232.9" r="0.95" fill="#55683c"/>
<circle cx="369.9" cy="240.7" r="0.95" fill="#55683c"/>
<circle cx="375.9" cy="249.3" r="0.95" fill="#55683c"/>
<circle cx="369.9" cy="256.8" r="0.95" fill="#55683c"/>
<circle cx="363.7" cy="264.9" r="0.95" fill="#55683c"/>
<circle cx="353.0" cy="264.7" r="0.95" fill="#55683c"/>
<circle cx="347.0" cy="256.4" r="0.95" fill="#55683c"/>
<circle cx="341.7" cy="249.0" r="0.95" fill="#55683c"/>
<circle cx="347.4" cy="240.7" r="0.95" fill="#55683c"/>
<circle cx="355.3" cy="247.5" r="0.9" fill="#2f6a78"/>
<circle cx="363.3" cy="250.5" r="0.9" fill="#2f6a78"/>
<polygon points="416.1,232.4 426.7,232.4 429.5,238.2 433.1,240.4 439.3,249.3 433.1,257.0 429.5,259.4 426.7,265.4 415.7,265.2 413.5,259.4 409.5,256.6 404.1,249.0 409.9,240.4 413.7,238.2" fill="#1f3ad0"/>
<polygon points="416.1,232.4 426.7,232.4 429.5,238.2 424.2,247.5 419.2,243.5" fill="#2672f4"/>
<polygon points="416.1,232.4 419.2,243.5 415.7,246.0 413.7,238.2" fill="#1c36c8"/>
<polygon points="429.5,238.2 433.1,240.4 439.3,249.3 433.1,257.0 427.7,253.0 424.2,247.5" fill="#2356ea"/>
<polygon points="439.3,249.3 433.1,257.0 429.5,259.4 427.7,253.0" fill="#1a2cb8"/>
<polygon points="409.9,240.4 413.7,238.2 415.7,246.0 418.7,251.0 409.5,256.6 404.1,249.0" fill="#1a28b4"/>
<polygon points="409.9,240.4 404.1,249.0 411.7,247.0" fill="#2244d8"/>
<polygon points="409.5,256.6 413.5,259.4 415.7,265.2 426.7,265.4 423.2,254.5 418.7,251.0" fill="#2459ec"/>
<polygon points="426.7,265.4 429.5,259.4 427.7,253.0 423.2,254.5" fill="#1a2cb8"/>
<polygon points="415.7,246.0 419.2,243.5 424.2,247.5 427.7,253.0 423.2,254.5 418.7,251.0" fill="#1b30c2"/>
<polygon points="419.2,243.5 424.2,247.5 421.2,250.5 417.2,247.5" fill="#2b62f0"/>
<circle cx="416.3" cy="232.9" r="0.95" fill="#55683c"/>
<circle cx="426.6" cy="232.9" r="0.95" fill="#55683c"/>
<circle cx="432.8" cy="240.7" r="0.95" fill="#55683c"/>
<circle cx="438.8" cy="249.3" r="0.95" fill="#55683c"/>
<circle cx="432.8" cy="256.8" r="0.95" fill="#55683c"/>
<circle cx="426.6" cy="264.9" r="0.95" fill="#55683c"/>
<circle cx="415.9" cy="264.7" r="0.95" fill="#55683c"/>
<circle cx="409.9" cy="256.4" r="0.95" fill="#55683c"/>
<circle cx="404.6" cy="249.0" r="0.95" fill="#55683c"/>
<circle cx="410.3" cy="240.7" r="0.95" fill="#55683c"/>
<circle cx="418.2" cy="247.5" r="0.9" fill="#2f6a78"/>
<circle cx="426.2" cy="250.5" r="0.9" fill="#2f6a78"/>
<polygon points="383.6,276.4 394.2,276.4 397.0,282.2 400.6,284.4 406.8,293.3 400.6,301.0 397.0,303.4 394.2,309.4 383.2,309.2 381.0,303.4 377.0,300.6 371.6,293.0 377.4,284.4 381.2,282.2" fill="#1f3ad0"/>
<polygon points="383.6,276.4 394.2,276.4 397.0,282.2 391.7,291.5 386.7,287.5" fill="#2672f4"/>
<polygon points="383.6,276.4 386.7,287.5 383.2,290.0 381.2,282.2" fill="#1c36c8"/>
<polygon points="397.0,282.2 400.6,284.4 406.8,293.3 400.6,301.0 395.2,297.0 391.7,291.5" fill="#2356ea"/>
<polygon points="406.8,293.3 400.6,301.0 397.0,303.4 395.2,297.0" fill="#1a2cb8"/>
<polygon points="377.4,284.4 381.2,282.2 383.2,290.0 386.2,295.0 377.0,300.6 371.6,293.0" fill="#1a28b4"/>
<polygon points="377.4,284.4 371.6,293.0 379.2,291.0" fill="#2244d8"/>
<polygon points="377.0,300.6 381.0,303.4 383.2,309.2 394.2,309.4 390.7,298.5 386.2,295.0" fill="#2459ec"/>
<polygon points="394.2,309.4 397.0,303.4 395.2,297.0 390.7,298.5" fill="#1a2cb8"/>
<polygon points="383.2,290.0 386.7,287.5 391.7,291.5 395.2,297.0 390.7,298.5 386.2,295.0" fill="#1b30c2"/>
<polygon points="386.7,287.5 391.7,291.5 388.7,294.5 384.7,291.5" fill="#2b62f0"/>
<circle cx="383.8" cy="276.9" r="0.95" fill="#55683c"/>
<circle cx="394.1" cy="276.9" r="0.95" fill="#55683c"/>
<circle cx="400.3" cy="284.7" r="0.95" fill="#55683c"/>
<circle cx="406.3" cy="293.3" r="0.95" fill="#55683c"/>
<circle cx="400.3" cy="300.8" r="0.95" fill="#55683c"/>
<circle cx="394.1" cy="308.9" r="0.95" fill="#55683c"/>
<circle cx="383.4" cy="308.7" r="0.95" fill="#55683c"/>
<circle cx="377.4" cy="300.4" r="0.95" fill="#55683c"/>
<circle cx="372.1" cy="293.0" r="0.95" fill="#55683c"/>
<circle cx="377.8" cy="284.7" r="0.95" fill="#55683c"/>
<circle cx="385.7" cy="291.5" r="0.9" fill="#2f6a78"/>
<circle cx="393.7" cy="294.5" r="0.9" fill="#2f6a78"/>
<path d="M375 249.9 L404.8 249.9" fill="none" stroke="#222" stroke-width="0.6"/>
<path d="M375 249.9 L404.8 249.9" fill="none" stroke="#0c0c0c" stroke-width="2.1" stroke-linecap="round" stroke-dasharray="0.01 3.7"/>
<path d="M369.5 255.5 Q370.5 266 373.8 271.3 L381.2 278.6" fill="none" stroke="#222" stroke-width="0.6"/>
<path d="M369.5 255.5 Q370.5 266 373.8 271.3 L381.2 278.6" fill="none" stroke="#0c0c0c" stroke-width="2.1" stroke-linecap="round" stroke-dasharray="0.01 3.7"/>
<path d="M412 255.5 Q411 266 407.8 271.3 L400.4 278.6" fill="none" stroke="#222" stroke-width="0.6"/>
<path d="M412 255.5 Q411 266 407.8 271.3 L400.4 278.6" fill="none" stroke="#0c0c0c" stroke-width="2.1" stroke-linecap="round" stroke-dasharray="0.01 3.7"/>
<rect x="374.6" y="252.6" width="32.4" height="21.4" rx="14.5" ry="10.7" fill="#1cacf6" stroke="#1a2c6e" stroke-width="1.2" stroke-dasharray="2.2 1.3"/>
<ellipse cx="391" cy="263.4" rx="13" ry="8" fill="#1fb6fa"/>
<text x="180.5" y="231.6" font-size="8.6" text-anchor="middle" font-weight="bold" fill="#b5451f" word-spacing="0.5">≈ 3.7 Å</text>
<text x="285.2" y="231.7" font-size="8.3" text-anchor="middle" font-weight="bold" fill="#48c858" word-spacing="0.75">≈ 6 Å</text>
<text x="388.3" y="231.6" font-size="8.6" text-anchor="middle" font-weight="bold" fill="#4a9fe6" word-spacing="0.8">≈ 9.2 Å</text>
<text x="219.3" y="192.8" font-size="8.7" text-anchor="middle" font-weight="bold" fill="#111" >gate-closing</text>
<text x="353.3" y="192.8" font-size="8.9" text-anchor="middle" font-weight="bold" fill="#111" >gate-opening</text>
<polygon points="259.5,221.4 259.5,221.4 259.6,221.4 259.5,220.9 259.3,219.6 259.0,217.8 258.5,215.9 257.7,214.0 256.7,211.9 255.5,210.0 254.1,208.2 252.6,206.6 250.9,205.0 249.0,203.5 247.1,202.1 245.0,200.9 242.9,199.9 240.8,199.0 238.6,198.2 236.3,197.5 233.8,197.0 231.4,196.6 228.9,196.3 226.5,196.2 224.1,196.1 221.9,196.1 219.7,196.2 217.5,196.4 215.1,196.6 212.7,196.9 210.2,197.3 207.7,197.9 205.3,198.6 202.9,199.4 200.7,200.3 198.5,201.3 196.5,202.3 194.6,203.4 192.8,204.6 191.1,205.9 189.5,207.2 187.9,208.6 186.5,210.0 185.3,211.4 184.3,212.8 183.4,214.1 182.6,215.2 181.9,216.2 181.5,216.8 178.4,216.4 182.9,221.6 189.3,216.8 187.3,216.8 187.5,216.2 187.9,215.4 188.4,214.5 189.0,213.5 189.8,212.5 190.6,211.4 191.5,210.2 192.6,208.9 193.8,207.7 195.2,206.5 196.8,205.3 198.4,204.1 200.1,203.0 201.9,201.9 203.8,200.9 205.8,200.0 208.0,199.3 210.2,198.6 212.6,198.1 215.1,197.6 217.5,197.3 219.8,197.0 221.9,196.8 224.1,196.8 226.3,197.0 228.4,197.3 230.5,197.7 232.4,198.2 234.1,198.9 235.9,199.7 237.7,200.6 239.6,201.6 241.4,202.7 243.3,204.0 245.1,205.4 246.8,206.8 248.3,208.3 249.7,209.8 250.9,211.4 251.8,213.0 252.6,214.7 253.2,216.4 253.7,218.3 254.1,220.1 254.3,221.4" fill="#0a0a0a" stroke="#0a0a0a" stroke-width="0.15" stroke-linejoin="round"/>
<polygon points="316.4,221.4 316.4,221.4 316.3,221.4 316.4,220.9 316.6,219.6 317.0,217.8 317.5,215.9 318.3,214.1 319.2,212.3 320.3,210.5 321.5,208.8 322.9,207.1 324.4,205.5 326.1,204.0 327.9,202.6 329.8,201.4 331.8,200.3 334.0,199.3 336.2,198.5 338.6,197.8 341.0,197.2 343.5,196.8 345.9,196.5 348.3,196.2 350.7,196.1 353.1,196.1 355.4,196.2 357.7,196.4 359.9,196.7 362.0,197.2 364.1,197.7 366.3,198.4 368.4,199.1 370.5,200.0 372.4,201.0 374.1,202.0 375.9,203.2 377.8,204.6 379.7,206.1 381.4,207.7 382.8,209.3 384.0,210.8 385.0,212.3 385.9,213.7 386.8,215.0 387.3,215.9 390.5,216.1 385.9,221.6 379.5,216.8 382.3,216.4 381.9,215.6 381.2,214.4 380.5,213.2 379.7,212.0 378.7,210.8 377.7,209.5 376.6,208.2 375.4,206.8 374.1,205.5 372.7,204.2 371.1,202.9 369.5,201.8 367.8,200.8 366.0,199.9 364.1,199.1 362.1,198.4 359.9,197.8 357.7,197.3 355.4,197.0 353.0,197.0 350.7,197.0 348.5,197.2 346.4,197.5 344.4,197.9 342.5,198.5 340.7,199.2 338.9,200.0 337.1,201.0 335.3,202.0 333.5,203.2 331.8,204.5 330.1,205.9 328.5,207.3 327.1,208.8 325.9,210.2 324.8,211.8 323.9,213.4 323.1,215.1 322.5,216.8 322.1,218.5 321.9,220.2 321.8,221.4" fill="#0a0a0a" stroke="#0a0a0a" stroke-width="0.15" stroke-linejoin="round"/>
<path d="M131 312.2 C132.5 316.3 135 316.3 140 316.3 L178.4 316.3 C182.4 316.3 183.9 316.8 184.4 319.2 C184.9 316.8 186.4 316.3 190.4 316.3 L225.8 316.3 C230.8 316.3 233.3 316.3 234.8 312.2" fill="none" stroke="#111" stroke-width="0.8"/>
<path d="M241 311.5 C242.5 316 245 316 250 316 L337 316 C341 316 342.5 316.5 343 319.2 C343.5 316.5 345 316 349 316 L432.6 316 C437.6 316 440.1 316 441.6 311.5" fill="none" stroke="#111" stroke-width="0.8"/>
<text x="183.8" y="329.4" font-size="9.1" text-anchor="middle" font-weight="normal" fill="#000" >outside the detection range of</text>
<text x="184.3" y="341.2" font-size="9.1" text-anchor="middle" font-weight="normal" fill="#000" >low-temperature nitrogen adsorption</text>
<text x="343.0" y="329.8" font-size="9.1" text-anchor="middle" font-weight="normal" fill="#000" >available for determination by</text>
<text x="344.0" y="341.4" font-size="9.1" text-anchor="middle" font-weight="normal" fill="#000" >low-temperature nitrogen adsorption</text>
<text x="284.0" y="352.0" font-size="8.4" text-anchor="middle" font-weight="normal" fill="#000" >(d)</text>
</svg>
</body></html>
